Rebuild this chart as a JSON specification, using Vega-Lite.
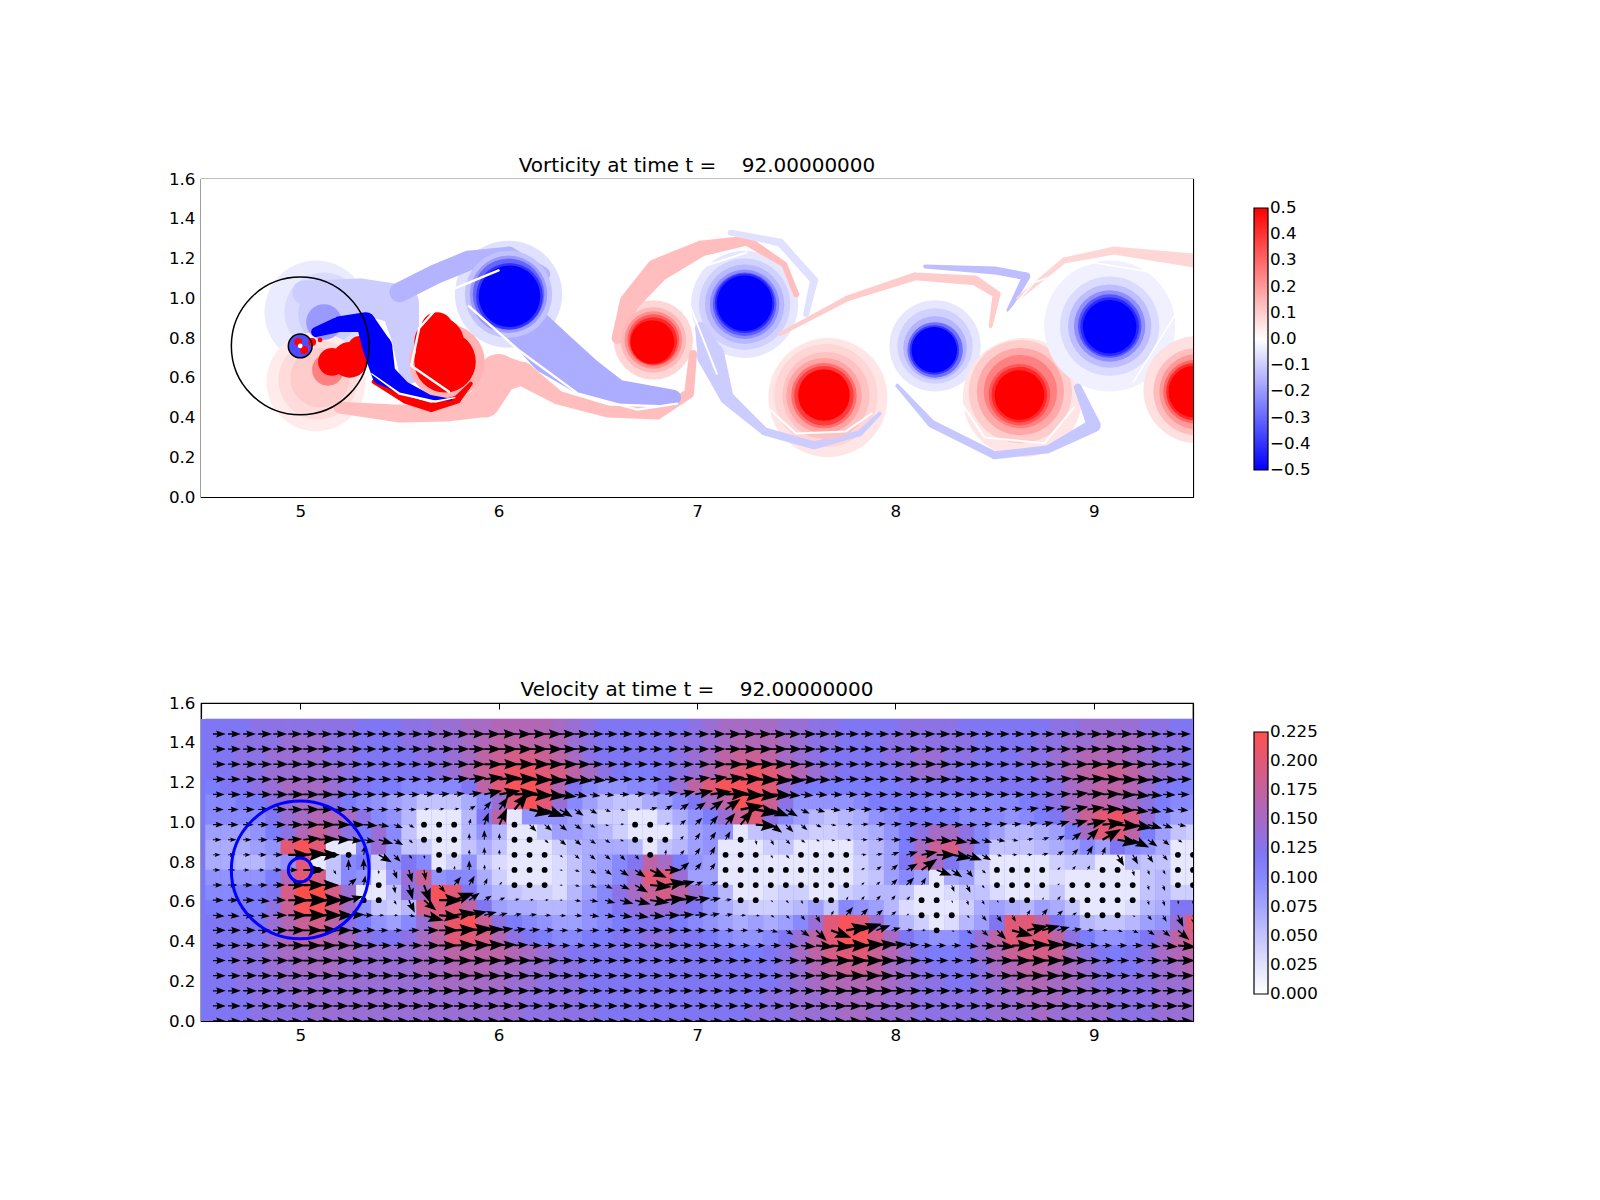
{"$schema":"https://vega.github.io/schema/vega-lite/v6.json","padding":{"left":167,"top":155,"right":0,"bottom":0},"background":"white","spacing":158,"resolve":{"scale":{"color":"independent","size":"independent"},"legend":{"color":"independent"}},
"config":{"font":"DejaVu Sans","view":{"stroke":"#000","strokeWidth":1.2},"title":{"fontSize":20,"fontWeight":"normal","color":"#000","font":"DejaVu Sans","offset":-5},"axis":{"labelFont":"DejaVu Sans","labelFontSize":16.7,"labelColor":"#000","tickColor":"#000","grid":false,"domain":true,"domainColor":"#000","domainWidth":1.2,"zindex":1,"title":null,"labelPadding":12,"tickSize":-6},"legend":{"labelFont":"DejaVu Sans","labelFontSize":16.7,"labelColor":"#000","gradientStrokeColor":"#000","gradientStrokeWidth":1.2}},
"datasets":{
"base0":[{"x":4.5,"x2":9.5,"y":0,"y2":1.6,"v":0}],
"halo":[
{"x":5.08,"y":0.93,"r":0.26,"v":-0.04},{"x":5.12,"y":0.93,"r":0.2,"v":-0.07},{"x":5.14,"y":0.92,"r":0.15,"v":-0.1},{"x":5.08,"y":0.58,"r":0.25,"v":0.04},{"x":5.09,"y":0.59,"r":0.2,"v":0.07},{"x":5.1,"y":0.6,"r":0.15,"v":0.1},
{"x":6.05,"y":1.02,"r":0.27,"v":-0.06},{"x":6.78,"y":0.79,"r":0.2,"v":0.08},{"x":7.24,"y":0.97,"r":0.27,"v":-0.05},{"x":7.24,"y":0.97,"r":0.23,"v":-0.09},{"x":7.66,"y":0.5,"r":0.3,"v":0.05},{"x":7.65,"y":0.51,"r":0.26,"v":0.08},{"x":8.2,"y":0.76,"r":0.23,"v":-0.05},{"x":8.2,"y":0.76,"r":0.19,"v":-0.09},{"x":8.64,"y":0.5,"r":0.3,"v":0.05},{"x":8.63,"y":0.53,"r":0.26,"v":0.1},{"x":9.08,"y":0.86,"r":0.33,"v":-0.03},{"x":9.08,"y":0.86,"r":0.25,"v":-0.07},{"x":9.52,"y":0.54,"r":0.27,"v":0.06}
],
"trails":[
{"g":"a","x":5.02,"y":1.03,"w":0.12,"v":-0.1},{"g":"a","x":5.3,"y":1.01,"w":0.18,"v":-0.1},{"g":"a","x":5.5,"y":0.97,"w":0.2,"v":-0.1},{"g":"a","x":5.53,"y":0.8,"w":0.14,"v":-0.1},{"g":"a","x":5.55,"y":0.62,"w":0.1,"v":-0.1},
{"g":"b","x":5.5,"y":1.03,"w":0.1,"v":-0.15},{"g":"b","x":5.68,"y":1.12,"w":0.1,"v":-0.15},{"g":"b","x":5.85,"y":1.19,"w":0.1,"v":-0.15},{"g":"b","x":6.05,"y":1.21,"w":0.1,"v":-0.15},{"g":"b","x":6.22,"y":1.12,"w":0.08,"v":-0.15},
{"g":"d","x":5.2,"y":0.45,"w":0.06,"v":0.13},{"g":"d","x":5.5,"y":0.42,"w":0.09,"v":0.13},{"g":"d","x":5.75,"y":0.42,"w":0.08,"v":0.13},{"g":"d","x":5.93,"y":0.48,"w":0.16,"v":0.13},{"g":"d","x":6.0,"y":0.62,"w":0.2,"v":0.13},{"g":"d","x":6.12,"y":0.62,"w":0.12,"v":0.13},{"g":"d","x":6.3,"y":0.5,"w":0.07,"v":0.13},{"g":"d","x":6.55,"y":0.43,"w":0.06,"v":0.13},{"g":"d","x":6.8,"y":0.42,"w":0.06,"v":0.13},{"g":"d","x":6.96,"y":0.52,"w":0.05,"v":0.13},{"g":"d","x":6.98,"y":0.72,"w":0.04,"v":0.13},
{"g":"c","x":6.1,"y":0.9,"w":0.22,"v":-0.16},{"g":"c","x":6.27,"y":0.73,"w":0.24,"v":-0.16},{"g":"c","x":6.42,"y":0.62,"w":0.2,"v":-0.16},{"g":"c","x":6.6,"y":0.53,"w":0.12,"v":-0.16},{"g":"c","x":6.88,"y":0.5,"w":0.08,"v":-0.16},
{"g":"k","x":6.6,"y":0.8,"w":0.06,"v":0.13},{"g":"k","x":6.66,"y":0.98,"w":0.1,"v":0.13},{"g":"k","x":6.8,"y":1.14,"w":0.12,"v":0.13},{"g":"k","x":7.02,"y":1.25,"w":0.08,"v":0.13},{"g":"k","x":7.25,"y":1.29,"w":0.05,"v":0.13},{"g":"k","x":7.44,"y":1.17,"w":0.03,"v":0.13},{"g":"k","x":7.5,"y":1.02,"w":0.03,"v":0.13},
{"g":"l","x":7.17,"y":1.33,"w":0.03,"v":-0.06},{"g":"l","x":7.42,"y":1.28,"w":0.04,"v":-0.06},{"g":"l","x":7.59,"y":1.09,"w":0.04,"v":-0.06},{"g":"l","x":7.55,"y":0.92,"w":0.03,"v":-0.06},
{"g":"m","x":7.02,"y":0.85,"w":0.06,"v":-0.1},{"g":"m","x":7.07,"y":0.71,"w":0.14,"v":-0.1},{"g":"m","x":7.15,"y":0.5,"w":0.07,"v":-0.1},{"g":"m","x":7.34,"y":0.33,"w":0.04,"v":-0.1},{"g":"m","x":7.59,"y":0.26,"w":0.04,"v":-0.1},{"g":"m","x":7.82,"y":0.32,"w":0.03,"v":-0.1},{"g":"m","x":7.92,"y":0.42,"w":0.02,"v":-0.1},
{"g":"o","x":7.42,"y":0.82,"w":0.02,"v":0.1},{"g":"o","x":7.76,"y":1.0,"w":0.03,"v":0.1},{"g":"o","x":8.1,"y":1.11,"w":0.04,"v":0.1},{"g":"o","x":8.4,"y":1.09,"w":0.05,"v":0.1},{"g":"o","x":8.51,"y":1.02,"w":0.04,"v":0.1},{"g":"o","x":8.48,"y":0.86,"w":0.02,"v":0.1},
{"g":"p","x":8.15,"y":1.16,"w":0.02,"v":-0.13},{"g":"p","x":8.5,"y":1.14,"w":0.04,"v":-0.13},{"g":"p","x":8.66,"y":1.11,"w":0.04,"v":-0.13},{"g":"p","x":8.57,"y":0.94,"w":0.02,"v":-0.13},
{"g":"s","x":8.01,"y":0.56,"w":0.02,"v":-0.11},{"g":"s","x":8.18,"y":0.37,"w":0.04,"v":-0.11},{"g":"s","x":8.5,"y":0.21,"w":0.04,"v":-0.11},{"g":"s","x":8.77,"y":0.24,"w":0.04,"v":-0.11},{"g":"s","x":9.0,"y":0.36,"w":0.07,"v":-0.11},{"g":"s","x":8.92,"y":0.55,"w":0.04,"v":-0.11},
{"g":"t","x":8.62,"y":1.0,"w":0.02,"v":0.08},{"g":"t","x":8.85,"y":1.19,"w":0.03,"v":0.08},{"g":"t","x":9.1,"y":1.24,"w":0.04,"v":0.08},{"g":"t","x":9.5,"y":1.19,"w":0.07,"v":0.08}
],
"over":[
{"g":"e","x":5.37,"y":0.58,"w":0.02,"v":0.5},{"g":"e","x":5.53,"y":0.49,"w":0.04,"v":0.5},{"g":"e","x":5.66,"y":0.45,"w":0.045,"v":0.5},{"g":"e","x":5.79,"y":0.49,"w":0.04,"v":0.5},{"g":"e","x":5.86,"y":0.57,"w":0.02,"v":0.5},
{"g":"f","x":5.08,"y":0.83,"w":0.05,"v":-0.5},{"g":"f","x":5.2,"y":0.87,"w":0.08,"v":-0.5},{"g":"f","x":5.33,"y":0.88,"w":0.1,"v":-0.5},{"g":"f","x":5.39,"y":0.75,"w":0.15,"v":-0.5},{"g":"f","x":5.42,"y":0.62,"w":0.12,"v":-0.5},{"g":"f","x":5.52,"y":0.55,"w":0.07,"v":-0.5},{"g":"f","x":5.65,"y":0.5,"w":0.03,"v":-0.5},{"g":"f","x":5.76,"y":0.49,"w":0.01,"v":-0.5},
{"g":"h","x":5.36,"y":0.62,"w":0.006,"v":0},{"g":"h","x":5.5,"y":0.52,"w":0.012,"v":0},{"g":"h","x":5.68,"y":0.48,"w":0.012,"v":0},{"g":"h","x":5.78,"y":0.5,"w":0.006,"v":0},
{"g":"i","x":6.0,"y":1.14,"w":0.012,"v":0},{"g":"i","x":5.78,"y":1.05,"w":0.012,"v":0},{"g":"i","x":5.6,"y":0.85,"w":0.012,"v":0},{"g":"i","x":5.56,"y":0.66,"w":0.012,"v":0},{"g":"i","x":5.75,"y":0.53,"w":0.012,"v":0},
{"g":"j","x":5.85,"y":0.96,"w":0.012,"v":0},{"g":"j","x":6.1,"y":0.74,"w":0.012,"v":0},{"g":"j","x":6.4,"y":0.52,"w":0.012,"v":0},{"g":"j","x":6.7,"y":0.44,"w":0.012,"v":0},{"g":"j","x":6.9,"y":0.47,"w":0.012,"v":0},
{"g":"n","x":7.25,"y":1.23,"w":0.01,"v":0},{"g":"n","x":7.0,"y":1.15,"w":0.01,"v":0},{"g":"n","x":6.95,"y":1.0,"w":0.01,"v":0},{"g":"n","x":7.1,"y":0.62,"w":0.01,"v":0},
{"g":"q","x":7.3,"y":0.5,"w":0.01,"v":0},{"g":"q","x":7.5,"y":0.32,"w":0.01,"v":0},{"g":"q","x":7.75,"y":0.33,"w":0.01,"v":0},{"g":"q","x":7.88,"y":0.42,"w":0.01,"v":0},
{"g":"u","x":8.3,"y":0.52,"w":0.01,"v":0},{"g":"u","x":8.45,"y":0.3,"w":0.01,"v":0},{"g":"u","x":8.75,"y":0.27,"w":0.01,"v":0},{"g":"u","x":8.9,"y":0.45,"w":0.01,"v":0},
{"g":"w","x":8.5,"y":0.85,"w":0.008,"v":0},{"g":"w","x":8.7,"y":1.08,"w":0.008,"v":0},{"g":"w","x":9.0,"y":1.18,"w":0.008,"v":0},{"g":"w","x":9.35,"y":1.12,"w":0.008,"v":0},{"g":"w","x":9.45,"y":0.98,"w":0.008,"v":0},{"g":"w","x":9.2,"y":0.58,"w":0.008,"v":0}
],
"blobs":[
{"x":5.12,"y":0.88,"r":0.09,"v":-0.2},{"x":5.14,"y":0.64,"r":0.08,"v":0.25},
{"x":6.05,"y":1.02,"r":0.22,"v":-0.12},{"x":6.05,"y":1.02,"r":0.195,"v":-0.2},{"x":6.05,"y":1.02,"r":0.18,"v":-0.3},{"x":6.055,"y":1.01,"r":0.168,"v":-0.4},{"x":6.055,"y":1.01,"r":0.155,"v":-0.5},
{"x":5.74,"y":0.68,"r":0.19,"v":0.15},{"x":5.73,"y":0.68,"r":0.155,"v":0.5},{"x":5.7,"y":0.78,"r":0.125,"v":0.5},{"x":5.69,"y":0.85,"r":0.08,"v":0.5},
{"x":6.78,"y":0.79,"r":0.165,"v":0.14},{"x":6.78,"y":0.79,"r":0.145,"v":0.22},{"x":6.78,"y":0.79,"r":0.13,"v":0.32},{"x":6.78,"y":0.785,"r":0.12,"v":0.42},{"x":6.775,"y":0.78,"r":0.11,"v":0.5},
{"x":7.24,"y":0.97,"r":0.2,"v":-0.14},{"x":7.24,"y":0.97,"r":0.175,"v":-0.22},{"x":7.24,"y":0.97,"r":0.16,"v":-0.32},{"x":7.24,"y":0.975,"r":0.15,"v":-0.42},{"x":7.24,"y":0.975,"r":0.14,"v":-0.5},
{"x":7.65,"y":0.51,"r":0.22,"v":0.12},{"x":7.64,"y":0.51,"r":0.19,"v":0.18},{"x":7.64,"y":0.51,"r":0.165,"v":0.28},{"x":7.64,"y":0.51,"r":0.15,"v":0.38},{"x":7.64,"y":0.513,"r":0.13,"v":0.5},
{"x":8.2,"y":0.75,"r":0.16,"v":-0.15},{"x":8.2,"y":0.74,"r":0.14,"v":-0.28},{"x":8.196,"y":0.74,"r":0.125,"v":-0.4},{"x":8.196,"y":0.74,"r":0.115,"v":-0.5},
{"x":8.63,"y":0.53,"r":0.22,"v":0.17},{"x":8.63,"y":0.53,"r":0.185,"v":0.25},{"x":8.625,"y":0.515,"r":0.155,"v":0.33},{"x":8.625,"y":0.515,"r":0.14,"v":0.42},{"x":8.625,"y":0.513,"r":0.125,"v":0.5},
{"x":9.08,"y":0.86,"r":0.21,"v":-0.13},{"x":9.08,"y":0.86,"r":0.18,"v":-0.22},{"x":9.08,"y":0.86,"r":0.16,"v":-0.33},{"x":9.08,"y":0.857,"r":0.148,"v":-0.42},{"x":9.08,"y":0.857,"r":0.135,"v":-0.5},
{"x":9.52,"y":0.53,"r":0.22,"v":0.13},{"x":9.52,"y":0.53,"r":0.19,"v":0.2},{"x":9.51,"y":0.53,"r":0.16,"v":0.3},{"x":9.51,"y":0.53,"r":0.145,"v":0.42},{"x":9.507,"y":0.53,"r":0.13,"v":0.5},
{"x":5.25,"y":0.69,"r":0.09,"v":0.5},{"x":5.16,"y":0.68,"r":0.07,"v":0.5},{"x":5.3,"y":0.75,"r":0.06,"v":0.5},
{"x":5.0,"y":0.76,"r":0.06,"v":-0.35},{"x":4.99,"y":0.78,"r":0.02,"v":0.5},{"x":5.02,"y":0.74,"r":0.02,"v":0.5},{"x":5.0,"y":0.76,"r":0.012,"v":0},{"x":5.06,"y":0.78,"r":0.02,"v":0.5},{"x":5.1,"y":0.79,"r":0.012,"v":0.5}
],
"circles":[{"x":5,"y":0.76,"r":0.347},{"x":5,"y":0.76,"r":0.06}],
"base":[{"x":4.5,"x2":9.5,"y":0,"y2":1.52,"s":0.115}],
"grid":[
{"x":4.56,"y":1.444,"s":0.12},{"x":4.636,"y":1.444,"s":0.12},{"x":4.712,"y":1.444,"s":0.12},{"x":4.788,"y":1.444,"s":0.13},{"x":4.864,"y":1.444,"s":0.13},{"x":4.94,"y":1.444,"s":0.13},{"x":5.016,"y":1.444,"s":0.13},{"x":5.092,"y":1.444,"s":0.13},{"x":5.168,"y":1.444,"s":0.13},{"x":5.244,"y":1.444,"s":0.13},{"x":5.32,"y":1.444,"s":0.12},{"x":5.396,"y":1.444,"s":0.12},{"x":5.472,"y":1.444,"s":0.12},{"x":5.548,"y":1.444,"s":0.13},{"x":5.624,"y":1.444,"s":0.13},{"x":5.7,"y":1.444,"s":0.14},{"x":5.776,"y":1.444,"s":0.14},{"x":5.852,"y":1.444,"s":0.15},{"x":5.928,"y":1.444,"s":0.15},{"x":6.004,"y":1.444,"s":0.16},{"x":6.08,"y":1.444,"s":0.16},{"x":6.156,"y":1.444,"s":0.16},{"x":6.232,"y":1.444,"s":0.16},{"x":6.308,"y":1.444,"s":0.15},{"x":6.384,"y":1.444,"s":0.14},{"x":6.46,"y":1.444,"s":0.13},{"x":6.536,"y":1.444,"s":0.12},{"x":6.612,"y":1.444,"s":0.12},{"x":6.688,"y":1.444,"s":0.12},{"x":6.764,"y":1.444,"s":0.12},{"x":6.84,"y":1.444,"s":0.12},{"x":6.916,"y":1.444,"s":0.12},{"x":6.992,"y":1.444,"s":0.13},{"x":7.068,"y":1.444,"s":0.14},{"x":7.144,"y":1.444,"s":0.15},{"x":7.22,"y":1.444,"s":0.15},{"x":7.296,"y":1.444,"s":0.15},{"x":7.372,"y":1.444,"s":0.15},{"x":7.448,"y":1.444,"s":0.14},{"x":7.524,"y":1.444,"s":0.14},{"x":7.6,"y":1.444,"s":0.13},{"x":7.676,"y":1.444,"s":0.13},{"x":7.752,"y":1.444,"s":0.12},{"x":7.828,"y":1.444,"s":0.12},{"x":7.904,"y":1.444,"s":0.12},{"x":7.98,"y":1.444,"s":0.12},{"x":8.056,"y":1.444,"s":0.13},{"x":8.132,"y":1.444,"s":0.13},{"x":8.208,"y":1.444,"s":0.13},{"x":8.284,"y":1.444,"s":0.13},{"x":8.36,"y":1.444,"s":0.12},{"x":8.436,"y":1.444,"s":0.12},{"x":8.512,"y":1.444,"s":0.12},{"x":8.588,"y":1.444,"s":0.12},{"x":8.664,"y":1.444,"s":0.12},{"x":8.74,"y":1.444,"s":0.12},{"x":8.816,"y":1.444,"s":0.13},{"x":8.892,"y":1.444,"s":0.13},{"x":8.968,"y":1.444,"s":0.14},{"x":9.044,"y":1.444,"s":0.14},{"x":9.12,"y":1.444,"s":0.14},{"x":9.196,"y":1.444,"s":0.14},{"x":9.272,"y":1.444,"s":0.13},{"x":9.348,"y":1.444,"s":0.13},{"x":9.424,"y":1.444,"s":0.12},{"x":9.5,"y":1.444,"s":0.12},
{"x":4.56,"y":1.368,"s":0.12},{"x":4.636,"y":1.368,"s":0.12},{"x":4.712,"y":1.368,"s":0.13},{"x":4.788,"y":1.368,"s":0.13},{"x":4.864,"y":1.368,"s":0.13},{"x":4.94,"y":1.368,"s":0.14},{"x":5.016,"y":1.368,"s":0.14},{"x":5.092,"y":1.368,"s":0.14},{"x":5.168,"y":1.368,"s":0.13},{"x":5.244,"y":1.368,"s":0.13},{"x":5.32,"y":1.368,"s":0.12},{"x":5.396,"y":1.368,"s":0.12},{"x":5.472,"y":1.368,"s":0.12},{"x":5.548,"y":1.368,"s":0.13},{"x":5.624,"y":1.368,"s":0.13},{"x":5.7,"y":1.368,"s":0.14},{"x":5.776,"y":1.368,"s":0.14},{"x":5.852,"y":1.368,"s":0.15},{"x":5.928,"y":1.368,"s":0.16},{"x":6.004,"y":1.368,"s":0.17},{"x":6.08,"y":1.368,"s":0.17},{"x":6.156,"y":1.368,"s":0.17},{"x":6.232,"y":1.368,"s":0.17},{"x":6.308,"y":1.368,"s":0.16},{"x":6.384,"y":1.368,"s":0.14},{"x":6.46,"y":1.368,"s":0.13},{"x":6.536,"y":1.368,"s":0.12},{"x":6.612,"y":1.368,"s":0.12},{"x":6.688,"y":1.368,"s":0.12},{"x":6.764,"y":1.368,"s":0.12},{"x":6.84,"y":1.368,"s":0.12},{"x":6.916,"y":1.368,"s":0.13},{"x":6.992,"y":1.368,"s":0.13},{"x":7.068,"y":1.368,"s":0.14},{"x":7.144,"y":1.368,"s":0.15},{"x":7.22,"y":1.368,"s":0.16},{"x":7.296,"y":1.368,"s":0.16},{"x":7.372,"y":1.368,"s":0.16},{"x":7.448,"y":1.368,"s":0.15},{"x":7.524,"y":1.368,"s":0.14},{"x":7.6,"y":1.368,"s":0.13},{"x":7.676,"y":1.368,"s":0.13},{"x":7.752,"y":1.368,"s":0.12},{"x":7.828,"y":1.368,"s":0.12},{"x":7.904,"y":1.368,"s":0.12},{"x":7.98,"y":1.368,"s":0.13},{"x":8.056,"y":1.368,"s":0.13},{"x":8.132,"y":1.368,"s":0.13},{"x":8.208,"y":1.368,"s":0.13},{"x":8.284,"y":1.368,"s":0.13},{"x":8.36,"y":1.368,"s":0.13},{"x":8.436,"y":1.368,"s":0.12},{"x":8.512,"y":1.368,"s":0.12},{"x":8.588,"y":1.368,"s":0.12},{"x":8.664,"y":1.368,"s":0.12},{"x":8.74,"y":1.368,"s":0.13},{"x":8.816,"y":1.368,"s":0.13},{"x":8.892,"y":1.368,"s":0.14},{"x":8.968,"y":1.368,"s":0.14},{"x":9.044,"y":1.368,"s":0.15},{"x":9.12,"y":1.368,"s":0.15},{"x":9.196,"y":1.368,"s":0.15},{"x":9.272,"y":1.368,"s":0.14},{"x":9.348,"y":1.368,"s":0.13},{"x":9.424,"y":1.368,"s":0.13},{"x":9.5,"y":1.368,"s":0.12},
{"x":4.56,"y":1.292,"s":0.12},{"x":4.636,"y":1.292,"s":0.12},{"x":4.712,"y":1.292,"s":0.13},{"x":4.788,"y":1.292,"s":0.13},{"x":4.864,"y":1.292,"s":0.14},{"x":4.94,"y":1.292,"s":0.14},{"x":5.016,"y":1.292,"s":0.14},{"x":5.092,"y":1.292,"s":0.14},{"x":5.168,"y":1.292,"s":0.13},{"x":5.244,"y":1.292,"s":0.13},{"x":5.32,"y":1.292,"s":0.12},{"x":5.396,"y":1.292,"s":0.12},{"x":5.472,"y":1.292,"s":0.12},{"x":5.548,"y":1.292,"s":0.12},{"x":5.624,"y":1.292,"s":0.13},{"x":5.7,"y":1.292,"s":0.13},{"x":5.776,"y":1.292,"s":0.14},{"x":5.852,"y":1.292,"s":0.15},{"x":5.928,"y":1.292,"s":0.17},{"x":6.004,"y":1.292,"s":0.18},{"x":6.08,"y":1.292,"s":0.19},{"x":6.156,"y":1.292,"s":0.19},{"x":6.232,"y":1.292,"s":0.18},{"x":6.308,"y":1.292,"s":0.17},{"x":6.384,"y":1.292,"s":0.15},{"x":6.46,"y":1.292,"s":0.13},{"x":6.536,"y":1.292,"s":0.12},{"x":6.612,"y":1.292,"s":0.12},{"x":6.688,"y":1.292,"s":0.12},{"x":6.764,"y":1.292,"s":0.12},{"x":6.84,"y":1.292,"s":0.12},{"x":6.916,"y":1.292,"s":0.13},{"x":6.992,"y":1.292,"s":0.14},{"x":7.068,"y":1.292,"s":0.15},{"x":7.144,"y":1.292,"s":0.17},{"x":7.22,"y":1.292,"s":0.18},{"x":7.296,"y":1.292,"s":0.18},{"x":7.372,"y":1.292,"s":0.17},{"x":7.448,"y":1.292,"s":0.15},{"x":7.524,"y":1.292,"s":0.14},{"x":7.6,"y":1.292,"s":0.13},{"x":7.676,"y":1.292,"s":0.12},{"x":7.752,"y":1.292,"s":0.12},{"x":7.828,"y":1.292,"s":0.12},{"x":7.904,"y":1.292,"s":0.12},{"x":7.98,"y":1.292,"s":0.13},{"x":8.056,"y":1.292,"s":0.13},{"x":8.132,"y":1.292,"s":0.14},{"x":8.208,"y":1.292,"s":0.14},{"x":8.284,"y":1.292,"s":0.13},{"x":8.36,"y":1.292,"s":0.13},{"x":8.436,"y":1.292,"s":0.12},{"x":8.512,"y":1.292,"s":0.12},{"x":8.588,"y":1.292,"s":0.12},{"x":8.664,"y":1.292,"s":0.13},{"x":8.74,"y":1.292,"s":0.13},{"x":8.816,"y":1.292,"s":0.14},{"x":8.892,"y":1.292,"s":0.15},{"x":8.968,"y":1.292,"s":0.16},{"x":9.044,"y":1.292,"s":0.16},{"x":9.12,"y":1.292,"s":0.16},{"x":9.196,"y":1.292,"s":0.15},{"x":9.272,"y":1.292,"s":0.14},{"x":9.348,"y":1.292,"s":0.13},{"x":9.424,"y":1.292,"s":0.13},{"x":9.5,"y":1.292,"s":0.12},
{"x":4.56,"y":1.216,"s":0.12},{"x":4.636,"y":1.216,"s":0.12},{"x":4.712,"y":1.216,"s":0.13},{"x":4.788,"y":1.216,"s":0.13},{"x":4.864,"y":1.216,"s":0.14},{"x":4.94,"y":1.216,"s":0.14},{"x":5.016,"y":1.216,"s":0.14},{"x":5.092,"y":1.216,"s":0.14},{"x":5.168,"y":1.216,"s":0.14},{"x":5.244,"y":1.216,"s":0.13},{"x":5.32,"y":1.216,"s":0.12},{"x":5.396,"y":1.216,"s":0.12},{"x":5.472,"y":1.216,"s":0.12},{"x":5.548,"y":1.216,"s":0.12},{"x":5.624,"y":1.216,"s":0.12},{"x":5.7,"y":1.216,"s":0.13,"a":-3},{"x":5.776,"y":1.216,"s":0.14,"a":-4},{"x":5.852,"y":1.216,"s":0.16,"a":-6},{"x":5.928,"y":1.216,"s":0.18,"a":-7},{"x":6.004,"y":1.216,"s":0.2,"a":-5},{"x":6.08,"y":1.216,"s":0.21,"a":-2},{"x":6.156,"y":1.216,"s":0.21,"a":2},{"x":6.232,"y":1.216,"s":0.2,"a":4},{"x":6.308,"y":1.216,"s":0.19,"a":5},{"x":6.384,"y":1.216,"s":0.17,"a":5},{"x":6.46,"y":1.216,"s":0.15,"a":4},{"x":6.536,"y":1.216,"s":0.13,"a":3},{"x":6.612,"y":1.216,"s":0.12},{"x":6.688,"y":1.216,"s":0.11},{"x":6.764,"y":1.216,"s":0.11},{"x":6.84,"y":1.216,"s":0.12,"a":-3},{"x":6.916,"y":1.216,"s":0.13,"a":-5},{"x":6.992,"y":1.216,"s":0.14,"a":-7},{"x":7.068,"y":1.216,"s":0.16,"a":-8},{"x":7.144,"y":1.216,"s":0.18,"a":-6},{"x":7.22,"y":1.216,"s":0.2,"a":-2},{"x":7.296,"y":1.216,"s":0.21,"a":2},{"x":7.372,"y":1.216,"s":0.2,"a":4},{"x":7.448,"y":1.216,"s":0.18,"a":4},{"x":7.524,"y":1.216,"s":0.16,"a":3},{"x":7.6,"y":1.216,"s":0.14,"a":3},{"x":7.676,"y":1.216,"s":0.13,"a":2},{"x":7.752,"y":1.216,"s":0.12},{"x":7.828,"y":1.216,"s":0.12},{"x":7.904,"y":1.216,"s":0.12},{"x":7.98,"y":1.216,"s":0.12},{"x":8.056,"y":1.216,"s":0.13},{"x":8.132,"y":1.216,"s":0.14},{"x":8.208,"y":1.216,"s":0.14},{"x":8.284,"y":1.216,"s":0.13},{"x":8.36,"y":1.216,"s":0.12},{"x":8.436,"y":1.216,"s":0.12},{"x":8.512,"y":1.216,"s":0.12},{"x":8.588,"y":1.216,"s":0.12},{"x":8.664,"y":1.216,"s":0.12},{"x":8.74,"y":1.216,"s":0.13},{"x":8.816,"y":1.216,"s":0.14,"a":-3},{"x":8.892,"y":1.216,"s":0.16,"a":-4},{"x":8.968,"y":1.216,"s":0.17,"a":-3},{"x":9.044,"y":1.216,"s":0.18,"a":-1},{"x":9.12,"y":1.216,"s":0.18,"a":1},{"x":9.196,"y":1.216,"s":0.17,"a":3},{"x":9.272,"y":1.216,"s":0.15,"a":3},{"x":9.348,"y":1.216,"s":0.14,"a":3},{"x":9.424,"y":1.216,"s":0.13},{"x":9.5,"y":1.216,"s":0.12},
{"x":4.56,"y":1.14,"s":0.11},{"x":4.636,"y":1.14,"s":0.12},{"x":4.712,"y":1.14,"s":0.12},{"x":4.788,"y":1.14,"s":0.13},{"x":4.864,"y":1.14,"s":0.14},{"x":4.94,"y":1.14,"s":0.15},{"x":5.016,"y":1.14,"s":0.15},{"x":5.092,"y":1.14,"s":0.15},{"x":5.168,"y":1.14,"s":0.14},{"x":5.244,"y":1.14,"s":0.13},{"x":5.32,"y":1.14,"s":0.12},{"x":5.396,"y":1.14,"s":0.11},{"x":5.472,"y":1.14,"s":0.11},{"x":5.548,"y":1.14,"s":0.1},{"x":5.624,"y":1.14,"s":0.1,"a":-3},{"x":5.7,"y":1.14,"s":0.1,"a":-4},{"x":5.776,"y":1.14,"s":0.1,"a":-6},{"x":5.852,"y":1.14,"s":0.12,"a":-8},{"x":5.928,"y":1.14,"s":0.17,"a":-12},{"x":6.004,"y":1.14,"s":0.2,"a":-10},{"x":6.08,"y":1.14,"s":0.22,"a":-3},{"x":6.156,"y":1.14,"s":0.22,"a":3},{"x":6.232,"y":1.14,"s":0.2,"a":6},{"x":6.308,"y":1.14,"s":0.16,"a":8},{"x":6.384,"y":1.14,"s":0.12,"a":8},{"x":6.46,"y":1.14,"s":0.1,"a":8},{"x":6.536,"y":1.14,"s":0.09,"a":5},{"x":6.612,"y":1.14,"s":0.09},{"x":6.688,"y":1.14,"s":0.1,"a":-5},{"x":6.764,"y":1.14,"s":0.1,"a":-8},{"x":6.84,"y":1.14,"s":0.12,"a":-10},{"x":6.916,"y":1.14,"s":0.14,"a":-12},{"x":6.992,"y":1.14,"s":0.17,"a":-12},{"x":7.068,"y":1.14,"s":0.2,"a":-8},{"x":7.144,"y":1.14,"s":0.22,"a":-3},{"x":7.22,"y":1.14,"s":0.22,"a":3},{"x":7.296,"y":1.14,"s":0.21,"a":5},{"x":7.372,"y":1.14,"s":0.2,"a":3},{"x":7.448,"y":1.14,"s":0.14,"a":5},{"x":7.524,"y":1.14,"s":0.12,"a":5},{"x":7.6,"y":1.14,"s":0.11,"a":3},{"x":7.676,"y":1.14,"s":0.11,"a":2},{"x":7.752,"y":1.14,"s":0.11},{"x":7.828,"y":1.14,"s":0.11},{"x":7.904,"y":1.14,"s":0.11},{"x":7.98,"y":1.14,"s":0.11},{"x":8.056,"y":1.14,"s":0.12},{"x":8.132,"y":1.14,"s":0.12},{"x":8.208,"y":1.14,"s":0.12},{"x":8.284,"y":1.14,"s":0.12},{"x":8.36,"y":1.14,"s":0.12},{"x":8.436,"y":1.14,"s":0.12},{"x":8.512,"y":1.14,"s":0.12},{"x":8.588,"y":1.14,"s":0.12},{"x":8.664,"y":1.14,"s":0.12},{"x":8.74,"y":1.14,"s":0.12},{"x":8.816,"y":1.14,"s":0.13,"a":-3},{"x":8.892,"y":1.14,"s":0.15,"a":-5},{"x":8.968,"y":1.14,"s":0.16,"a":-3},{"x":9.044,"y":1.14,"s":0.17,"a":-2},{"x":9.12,"y":1.14,"s":0.17,"a":2},{"x":9.196,"y":1.14,"s":0.16,"a":5},{"x":9.272,"y":1.14,"s":0.14,"a":5},{"x":9.348,"y":1.14,"s":0.12,"a":3},{"x":9.424,"y":1.14,"s":0.11},{"x":9.5,"y":1.14,"s":0.11},
{"x":4.56,"y":1.064,"s":0.1},{"x":4.636,"y":1.064,"s":0.1},{"x":4.712,"y":1.064,"s":0.11},{"x":4.788,"y":1.064,"s":0.11},{"x":4.864,"y":1.064,"s":0.13},{"x":4.94,"y":1.064,"s":0.14},{"x":5.016,"y":1.064,"s":0.15},{"x":5.092,"y":1.064,"s":0.14},{"x":5.168,"y":1.064,"s":0.13},{"x":5.244,"y":1.064,"s":0.11},{"x":5.32,"y":1.064,"s":0.1},{"x":5.396,"y":1.064,"s":0.09},{"x":5.472,"y":1.064,"s":0.08},{"x":5.548,"y":1.064,"s":0.07},{"x":5.624,"y":1.064,"s":0.05,"a":-10},{"x":5.7,"y":1.064,"s":0.05,"a":-10},{"x":5.776,"y":1.064,"s":0.05,"a":-15},{"x":5.852,"y":1.064,"s":0.07,"a":-30},{"x":5.928,"y":1.064,"s":0.1,"a":-50},{"x":6.004,"y":1.064,"s":0.14,"a":-55},{"x":6.08,"y":1.064,"s":0.2,"a":-50},{"x":6.156,"y":1.064,"s":0.22,"a":10},{"x":6.232,"y":1.064,"s":0.2,"a":20},{"x":6.308,"y":1.064,"s":0.14,"a":30},{"x":6.384,"y":1.064,"s":0.1,"a":35},{"x":6.46,"y":1.064,"s":0.08,"a":30},{"x":6.536,"y":1.064,"s":0.06,"a":20},{"x":6.612,"y":1.064,"s":0.05,"a":10},{"x":6.688,"y":1.064,"s":0.05,"a":-5},{"x":6.764,"y":1.064,"s":0.07,"a":-15},{"x":6.84,"y":1.064,"s":0.08,"a":-30},{"x":6.916,"y":1.064,"s":0.1,"a":-35},{"x":6.992,"y":1.064,"s":0.12,"a":-35},{"x":7.068,"y":1.064,"s":0.15,"a":-35},{"x":7.144,"y":1.064,"s":0.17,"a":-35},{"x":7.22,"y":1.064,"s":0.22,"a":-10},{"x":7.296,"y":1.064,"s":0.22,"a":10},{"x":7.372,"y":1.064,"s":0.18,"a":20},{"x":7.448,"y":1.064,"s":0.13,"a":30},{"x":7.524,"y":1.064,"s":0.09,"a":25},{"x":7.6,"y":1.064,"s":0.09,"a":15},{"x":7.676,"y":1.064,"s":0.09,"a":5},{"x":7.752,"y":1.064,"s":0.09},{"x":7.828,"y":1.064,"s":0.1,"a":-2},{"x":7.904,"y":1.064,"s":0.11,"a":-3},{"x":7.98,"y":1.064,"s":0.11,"a":-3},{"x":8.056,"y":1.064,"s":0.11,"a":-2},{"x":8.132,"y":1.064,"s":0.11,"a":-2},{"x":8.208,"y":1.064,"s":0.1},{"x":8.284,"y":1.064,"s":0.1},{"x":8.36,"y":1.064,"s":0.1},{"x":8.436,"y":1.064,"s":0.1},{"x":8.512,"y":1.064,"s":0.1,"a":-3},{"x":8.588,"y":1.064,"s":0.1,"a":-5},{"x":8.664,"y":1.064,"s":0.11,"a":-7},{"x":8.74,"y":1.064,"s":0.12,"a":-8},{"x":8.816,"y":1.064,"s":0.13,"a":-10},{"x":8.892,"y":1.064,"s":0.15,"a":-10},{"x":8.968,"y":1.064,"s":0.16,"a":-8},{"x":9.044,"y":1.064,"s":0.17,"a":-3},{"x":9.12,"y":1.064,"s":0.16,"a":3},{"x":9.196,"y":1.064,"s":0.15,"a":8},{"x":9.272,"y":1.064,"s":0.13,"a":10},{"x":9.348,"y":1.064,"s":0.11,"a":8},{"x":9.424,"y":1.064,"s":0.1,"a":5},{"x":9.5,"y":1.064,"s":0.1,"a":5},
{"x":4.56,"y":0.988,"s":0.1},{"x":4.636,"y":0.988,"s":0.1},{"x":4.712,"y":0.988,"s":0.1},{"x":4.788,"y":0.988,"s":0.1},{"x":4.864,"y":0.988,"s":0.12},{"x":4.94,"y":0.988,"s":0.14},{"x":5.016,"y":0.988,"s":0.15},{"x":5.092,"y":0.988,"s":0.16},{"x":5.168,"y":0.988,"s":0.16},{"x":5.244,"y":0.988,"s":0.15},{"x":5.32,"y":0.988,"s":0.13,"a":5},{"x":5.396,"y":0.988,"s":0.1,"a":10},{"x":5.472,"y":0.988,"s":0.09,"a":20},{"x":5.548,"y":0.988,"s":0.06,"a":30},{"x":5.624,"y":0.988,"s":0.02},{"x":5.7,"y":0.988,"s":0.02},{"x":5.776,"y":0.988,"s":0.02},{"x":5.852,"y":0.988,"s":0.06,"a":-75},{"x":5.928,"y":0.988,"s":0.12,"a":-70},{"x":6.004,"y":0.988,"s":0.17,"a":-65},{"x":6.08,"y":0.988,"s":0.02},{"x":6.156,"y":0.988,"s":0.09,"a":45},{"x":6.232,"y":0.988,"s":0.09,"a":40},{"x":6.308,"y":0.988,"s":0.09,"a":40},{"x":6.384,"y":0.988,"s":0.08,"a":35},{"x":6.46,"y":0.988,"s":0.06,"a":30},{"x":6.536,"y":0.988,"s":0.04,"a":20},{"x":6.612,"y":0.988,"s":0.04,"a":-10},{"x":6.688,"y":0.988,"s":0.02},{"x":6.764,"y":0.988,"s":0.02},{"x":6.84,"y":0.988,"s":0.05,"a":-20},{"x":6.916,"y":0.988,"s":0.07,"a":-40},{"x":6.992,"y":0.988,"s":0.09,"a":-45},{"x":7.068,"y":0.988,"s":0.11,"a":-50},{"x":7.144,"y":0.988,"s":0.14,"a":-50},{"x":7.22,"y":0.988,"s":0.18,"a":-50},{"x":7.296,"y":0.988,"s":0.2,"a":5},{"x":7.372,"y":0.988,"s":0.13,"a":35},{"x":7.448,"y":0.988,"s":0.1,"a":45},{"x":7.524,"y":0.988,"s":0.08,"a":40},{"x":7.6,"y":0.988,"s":0.06,"a":25},{"x":7.676,"y":0.988,"s":0.05,"a":10},{"x":7.752,"y":0.988,"s":0.06},{"x":7.828,"y":0.988,"s":0.07,"a":-5},{"x":7.904,"y":0.988,"s":0.09,"a":-5},{"x":7.98,"y":0.988,"s":0.1,"a":-5},{"x":8.056,"y":0.988,"s":0.11,"a":-5},{"x":8.132,"y":0.988,"s":0.11,"a":-3},{"x":8.208,"y":0.988,"s":0.11},{"x":8.284,"y":0.988,"s":0.11},{"x":8.36,"y":0.988,"s":0.1},{"x":8.436,"y":0.988,"s":0.1,"a":-3},{"x":8.512,"y":0.988,"s":0.1,"a":-5},{"x":8.588,"y":0.988,"s":0.09,"a":-5},{"x":8.664,"y":0.988,"s":0.1,"a":-10},{"x":8.74,"y":0.988,"s":0.11,"a":-12},{"x":8.816,"y":0.988,"s":0.12,"a":-15},{"x":8.892,"y":0.988,"s":0.15,"a":-15},{"x":8.968,"y":0.988,"s":0.18,"a":-12},{"x":9.044,"y":0.988,"s":0.2,"a":-5},{"x":9.12,"y":0.988,"s":0.21,"a":5},{"x":9.196,"y":0.988,"s":0.19,"a":10},{"x":9.272,"y":0.988,"s":0.14,"a":15},{"x":9.348,"y":0.988,"s":0.1,"a":20},{"x":9.424,"y":0.988,"s":0.08,"a":10},{"x":9.5,"y":0.988,"s":0.08,"a":5},
{"x":4.56,"y":0.912,"s":0.08},{"x":4.636,"y":0.912,"s":0.08},{"x":4.712,"y":0.912,"s":0.08},{"x":4.788,"y":0.912,"s":0.09},{"x":4.864,"y":0.912,"s":0.11,"a":-3},{"x":4.94,"y":0.912,"s":0.13,"a":-3},{"x":5.016,"y":0.912,"s":0.16,"a":-5},{"x":5.092,"y":0.912,"s":0.18,"a":-3},{"x":5.168,"y":0.912,"s":0.16},{"x":5.244,"y":0.912,"s":0.13,"a":5},{"x":5.32,"y":0.912,"s":0.11,"a":10},{"x":5.396,"y":0.912,"s":0.14,"a":15},{"x":5.472,"y":0.912,"s":0.1,"a":30},{"x":5.548,"y":0.912,"s":0.05,"a":40},{"x":5.624,"y":0.912,"s":0.02},{"x":5.7,"y":0.912,"s":0.02},{"x":5.776,"y":0.912,"s":0.02},{"x":5.852,"y":0.912,"s":0.06,"a":-90},{"x":5.928,"y":0.912,"s":0.09,"a":-90},{"x":6.004,"y":0.912,"s":0.06,"a":-90},{"x":6.08,"y":0.912,"s":0.02},{"x":6.156,"y":0.912,"s":0.02},{"x":6.232,"y":0.912,"s":0.05,"a":40},{"x":6.308,"y":0.912,"s":0.08,"a":40},{"x":6.384,"y":0.912,"s":0.08,"a":40},{"x":6.46,"y":0.912,"s":0.07,"a":35},{"x":6.536,"y":0.912,"s":0.06,"a":30},{"x":6.612,"y":0.912,"s":0.04,"a":20},{"x":6.688,"y":0.912,"s":0.02},{"x":6.764,"y":0.912,"s":0.02},{"x":6.84,"y":0.912,"s":0.02},{"x":6.916,"y":0.912,"s":0.05,"a":-50},{"x":6.992,"y":0.912,"s":0.08,"a":-55},{"x":7.068,"y":0.912,"s":0.09,"a":-55},{"x":7.144,"y":0.912,"s":0.09,"a":-60},{"x":7.22,"y":0.912,"s":0.02},{"x":7.296,"y":0.912,"s":0.05,"a":80},{"x":7.372,"y":0.912,"s":0.06,"a":60},{"x":7.448,"y":0.912,"s":0.06,"a":45},{"x":7.524,"y":0.912,"s":0.05,"a":35},{"x":7.6,"y":0.912,"s":0.04,"a":20},{"x":7.676,"y":0.912,"s":0.04,"a":15},{"x":7.752,"y":0.912,"s":0.05,"a":5},{"x":7.828,"y":0.912,"s":0.06},{"x":7.904,"y":0.912,"s":0.07,"a":-5},{"x":7.98,"y":0.912,"s":0.09},{"x":8.056,"y":0.912,"s":0.11},{"x":8.132,"y":0.912,"s":0.13,"a":5},{"x":8.208,"y":0.912,"s":0.15,"a":5},{"x":8.284,"y":0.912,"s":0.15,"a":10},{"x":8.36,"y":0.912,"s":0.13,"a":15},{"x":8.436,"y":0.912,"s":0.1,"a":15},{"x":8.512,"y":0.912,"s":0.08,"a":10},{"x":8.588,"y":0.912,"s":0.06,"a":10},{"x":8.664,"y":0.912,"s":0.06,"a":-10},{"x":8.74,"y":0.912,"s":0.07,"a":-20},{"x":8.816,"y":0.912,"s":0.08,"a":-30},{"x":8.892,"y":0.912,"s":0.11,"a":-40},{"x":8.968,"y":0.912,"s":0.15,"a":-45},{"x":9.044,"y":0.912,"s":0.2,"a":-30},{"x":9.12,"y":0.912,"s":0.2,"a":10},{"x":9.196,"y":0.912,"s":0.17,"a":25},{"x":9.272,"y":0.912,"s":0.11,"a":35},{"x":9.348,"y":0.912,"s":0.08,"a":40},{"x":9.424,"y":0.912,"s":0.05,"a":30},{"x":9.5,"y":0.912,"s":0.04,"a":20},
{"x":4.56,"y":0.836,"s":0.07},{"x":4.636,"y":0.836,"s":0.07},{"x":4.712,"y":0.836,"s":0.07},{"x":4.788,"y":0.836,"s":0.08},{"x":4.864,"y":0.836,"s":0.09},{"x":4.94,"y":0.836,"s":0.2},{"x":5.016,"y":0.836,"s":0.22,"a":-3},{"x":5.092,"y":0.836,"s":0.2},{"x":5.168,"y":0.836,"s":0.02},{"x":5.244,"y":0.836,"s":0.02},{"x":5.32,"y":0.836,"s":0.1,"a":-80},{"x":5.396,"y":0.836,"s":0.14,"a":30},{"x":5.472,"y":0.836,"s":0.09,"a":45},{"x":5.548,"y":0.836,"s":0.05,"a":50},{"x":5.624,"y":0.836,"s":0.04,"a":80},{"x":5.7,"y":0.836,"s":0.02},{"x":5.776,"y":0.836,"s":0.02},{"x":5.852,"y":0.836,"s":0.05,"a":-90},{"x":5.928,"y":0.836,"s":0.07,"a":-90},{"x":6.004,"y":0.836,"s":0.05,"a":-90},{"x":6.08,"y":0.836,"s":0.02},{"x":6.156,"y":0.836,"s":0.02},{"x":6.232,"y":0.836,"s":0.02},{"x":6.308,"y":0.836,"s":0.04,"a":40},{"x":6.384,"y":0.836,"s":0.06,"a":40},{"x":6.46,"y":0.836,"s":0.07,"a":40},{"x":6.536,"y":0.836,"s":0.07,"a":40},{"x":6.612,"y":0.836,"s":0.07,"a":45},{"x":6.688,"y":0.836,"s":0.06,"a":50},{"x":6.764,"y":0.836,"s":0.02},{"x":6.84,"y":0.836,"s":0.05,"a":-80},{"x":6.916,"y":0.836,"s":0.06,"a":-50},{"x":6.992,"y":0.836,"s":0.08,"a":-55},{"x":7.068,"y":0.836,"s":0.09,"a":-60},{"x":7.144,"y":0.836,"s":0.02},{"x":7.22,"y":0.836,"s":0.02},{"x":7.296,"y":0.836,"s":0.02},{"x":7.372,"y":0.836,"s":0.04,"a":60},{"x":7.448,"y":0.836,"s":0.05,"a":45},{"x":7.524,"y":0.836,"s":0.02},{"x":7.6,"y":0.836,"s":0.02},{"x":7.676,"y":0.836,"s":0.02},{"x":7.752,"y":0.836,"s":0.02},{"x":7.828,"y":0.836,"s":0.05,"a":-5},{"x":7.904,"y":0.836,"s":0.06,"a":-10},{"x":7.98,"y":0.836,"s":0.08,"a":-20},{"x":8.056,"y":0.836,"s":0.11,"a":-15},{"x":8.132,"y":0.836,"s":0.15,"a":-10},{"x":8.208,"y":0.836,"s":0.18},{"x":8.284,"y":0.836,"s":0.19,"a":10},{"x":8.36,"y":0.836,"s":0.15,"a":20},{"x":8.436,"y":0.836,"s":0.1,"a":30},{"x":8.512,"y":0.836,"s":0.05,"a":15},{"x":8.588,"y":0.836,"s":0.05},{"x":8.664,"y":0.836,"s":0.05,"a":-5},{"x":8.74,"y":0.836,"s":0.06,"a":-15},{"x":8.816,"y":0.836,"s":0.07,"a":-30},{"x":8.892,"y":0.836,"s":0.08,"a":-45},{"x":8.968,"y":0.836,"s":0.1,"a":-60},{"x":9.044,"y":0.836,"s":0.08,"a":-70},{"x":9.12,"y":0.836,"s":0.12,"a":60},{"x":9.196,"y":0.836,"s":0.1,"a":60},{"x":9.272,"y":0.836,"s":0.09,"a":55},{"x":9.348,"y":0.836,"s":0.07,"a":50},{"x":9.424,"y":0.836,"s":0.02},{"x":9.5,"y":0.836,"s":0.02},
{"x":4.56,"y":0.76,"s":0.07},{"x":4.636,"y":0.76,"s":0.07},{"x":4.712,"y":0.76,"s":0.06},{"x":4.788,"y":0.76,"s":0.06},{"x":4.864,"y":0.76,"s":0.08},{"x":4.94,"y":0.76,"s":0.09},{"x":5.016,"y":0.76,"s":0.2},{"x":5.092,"y":0.76,"s":0.02},{"x":5.168,"y":0.76,"s":0.05,"a":60},{"x":5.244,"y":0.76,"s":0.1,"a":-90},{"x":5.32,"y":0.76,"s":0.11,"a":-90},{"x":5.396,"y":0.76,"s":0.04,"a":90},{"x":5.472,"y":0.76,"s":0.09,"a":70},{"x":5.548,"y":0.76,"s":0.12,"a":75},{"x":5.624,"y":0.76,"s":0.1,"a":80},{"x":5.7,"y":0.76,"s":0.02},{"x":5.776,"y":0.76,"s":0.04,"a":-80},{"x":5.852,"y":0.76,"s":0.09,"a":-90},{"x":5.928,"y":0.76,"s":0.05,"a":-85},{"x":6.004,"y":0.76,"s":0.03,"a":-90},{"x":6.08,"y":0.76,"s":0.02},{"x":6.156,"y":0.76,"s":0.02},{"x":6.232,"y":0.76,"s":0.02},{"x":6.308,"y":0.76,"s":0.03,"a":5},{"x":6.384,"y":0.76,"s":0.05,"a":20},{"x":6.46,"y":0.76,"s":0.07,"a":30},{"x":6.536,"y":0.76,"s":0.08,"a":35},{"x":6.612,"y":0.76,"s":0.1,"a":35},{"x":6.688,"y":0.76,"s":0.12,"a":35},{"x":6.764,"y":0.76,"s":0.17,"a":25},{"x":6.84,"y":0.76,"s":0.15},{"x":6.916,"y":0.76,"s":0.11,"a":-40},{"x":6.992,"y":0.76,"s":0.09,"a":-50},{"x":7.068,"y":0.76,"s":0.08,"a":-55},{"x":7.144,"y":0.76,"s":0.02},{"x":7.22,"y":0.76,"s":0.02},{"x":7.296,"y":0.76,"s":0.02},{"x":7.372,"y":0.76,"s":0.02},{"x":7.448,"y":0.76,"s":0.02},{"x":7.524,"y":0.76,"s":0.02},{"x":7.6,"y":0.76,"s":0.02},{"x":7.676,"y":0.76,"s":0.02},{"x":7.752,"y":0.76,"s":0.02},{"x":7.828,"y":0.76,"s":0.04,"a":-30},{"x":7.904,"y":0.76,"s":0.06,"a":-35},{"x":7.98,"y":0.76,"s":0.08,"a":-40},{"x":8.056,"y":0.76,"s":0.12,"a":-30},{"x":8.132,"y":0.76,"s":0.18,"a":-35},{"x":8.208,"y":0.76,"s":0.15,"a":20},{"x":8.284,"y":0.76,"s":0.12,"a":35},{"x":8.36,"y":0.76,"s":0.09,"a":50},{"x":8.436,"y":0.76,"s":0.05,"a":40},{"x":8.512,"y":0.76,"s":0.02},{"x":8.588,"y":0.76,"s":0.02},{"x":8.664,"y":0.76,"s":0.02},{"x":8.74,"y":0.76,"s":0.02},{"x":8.816,"y":0.76,"s":0.04,"a":-40},{"x":8.892,"y":0.76,"s":0.05,"a":-50},{"x":8.968,"y":0.76,"s":0.05,"a":-60},{"x":9.044,"y":0.76,"s":0.02},{"x":9.12,"y":0.76,"s":0.02},{"x":9.196,"y":0.76,"s":0.06,"a":75},{"x":9.272,"y":0.76,"s":0.05,"a":70},{"x":9.348,"y":0.76,"s":0.05,"a":60},{"x":9.424,"y":0.76,"s":0.02},{"x":9.5,"y":0.76,"s":0.02},
{"x":4.56,"y":0.684,"s":0.09},{"x":4.636,"y":0.684,"s":0.09},{"x":4.712,"y":0.684,"s":0.09},{"x":4.788,"y":0.684,"s":0.09},{"x":4.864,"y":0.684,"s":0.11},{"x":4.94,"y":0.684,"s":0.16},{"x":5.016,"y":0.684,"s":0.2},{"x":5.092,"y":0.684,"s":0.19},{"x":5.168,"y":0.684,"s":0.05,"a":5},{"x":5.244,"y":0.684,"s":0.1,"a":-40},{"x":5.32,"y":0.684,"s":0.09,"a":-80},{"x":5.396,"y":0.684,"s":0.02},{"x":5.472,"y":0.684,"s":0.08,"a":80},{"x":5.548,"y":0.684,"s":0.14,"a":75},{"x":5.624,"y":0.684,"s":0.18,"a":70},{"x":5.7,"y":0.684,"s":0.09,"a":50},{"x":5.776,"y":0.684,"s":0.1,"a":-50},{"x":5.852,"y":0.684,"s":0.1,"a":-60},{"x":5.928,"y":0.684,"s":0.07,"a":-65},{"x":6.004,"y":0.684,"s":0.04,"a":-50},{"x":6.08,"y":0.684,"s":0.02},{"x":6.156,"y":0.684,"s":0.02},{"x":6.232,"y":0.684,"s":0.02},{"x":6.308,"y":0.684,"s":0.03,"a":5},{"x":6.384,"y":0.684,"s":0.05,"a":15},{"x":6.46,"y":0.684,"s":0.07,"a":20},{"x":6.536,"y":0.684,"s":0.08,"a":25},{"x":6.612,"y":0.684,"s":0.1,"a":25},{"x":6.688,"y":0.684,"s":0.14,"a":30},{"x":6.764,"y":0.684,"s":0.2,"a":5},{"x":6.84,"y":0.684,"s":0.2,"a":-8},{"x":6.916,"y":0.684,"s":0.14,"a":-15},{"x":6.992,"y":0.684,"s":0.08,"a":-25},{"x":7.068,"y":0.684,"s":0.08,"a":-25},{"x":7.144,"y":0.684,"s":0.02},{"x":7.22,"y":0.684,"s":0.02},{"x":7.296,"y":0.684,"s":0.02},{"x":7.372,"y":0.684,"s":0.02},{"x":7.448,"y":0.684,"s":0.02},{"x":7.524,"y":0.684,"s":0.02},{"x":7.6,"y":0.684,"s":0.02},{"x":7.676,"y":0.684,"s":0.02},{"x":7.752,"y":0.684,"s":0.02},{"x":7.828,"y":0.684,"s":0.04,"a":-40},{"x":7.904,"y":0.684,"s":0.05,"a":-40},{"x":7.98,"y":0.684,"s":0.08,"a":-45},{"x":8.056,"y":0.684,"s":0.1,"a":-45},{"x":8.132,"y":0.684,"s":0.08,"a":-60},{"x":8.208,"y":0.684,"s":0.02},{"x":8.284,"y":0.684,"s":0.07,"a":70},{"x":8.36,"y":0.684,"s":0.08,"a":65},{"x":8.436,"y":0.684,"s":0.04,"a":50},{"x":8.512,"y":0.684,"s":0.02},{"x":8.588,"y":0.684,"s":0.02},{"x":8.664,"y":0.684,"s":0.02},{"x":8.74,"y":0.684,"s":0.02},{"x":8.816,"y":0.684,"s":0.03,"a":-30},{"x":8.892,"y":0.684,"s":0.02},{"x":8.968,"y":0.684,"s":0.02},{"x":9.044,"y":0.684,"s":0.02},{"x":9.12,"y":0.684,"s":0.02},{"x":9.196,"y":0.684,"s":0.02},{"x":9.272,"y":0.684,"s":0.05,"a":75},{"x":9.348,"y":0.684,"s":0.06,"a":70},{"x":9.424,"y":0.684,"s":0.02},{"x":9.5,"y":0.684,"s":0.02},
{"x":4.56,"y":0.608,"s":0.1},{"x":4.636,"y":0.608,"s":0.1},{"x":4.712,"y":0.608,"s":0.11},{"x":4.788,"y":0.608,"s":0.11,"a":5},{"x":4.864,"y":0.608,"s":0.12},{"x":4.94,"y":0.608,"s":0.19},{"x":5.016,"y":0.608,"s":0.23},{"x":5.092,"y":0.608,"s":0.23},{"x":5.168,"y":0.608,"s":0.19,"a":-3},{"x":5.244,"y":0.608,"s":0.14,"a":-15},{"x":5.32,"y":0.608,"s":0.02},{"x":5.396,"y":0.608,"s":0.02},{"x":5.472,"y":0.608,"s":0.05,"a":60},{"x":5.548,"y":0.608,"s":0.13,"a":65},{"x":5.624,"y":0.608,"s":0.15,"a":40},{"x":5.7,"y":0.608,"s":0.22},{"x":5.776,"y":0.608,"s":0.2,"a":-20},{"x":5.852,"y":0.608,"s":0.12,"a":-35},{"x":5.928,"y":0.608,"s":0.08,"a":-30},{"x":6.004,"y":0.608,"s":0.06,"a":-25},{"x":6.08,"y":0.608,"s":0.05,"a":-15},{"x":6.156,"y":0.608,"s":0.04,"a":-10},{"x":6.232,"y":0.608,"s":0.04,"a":-5},{"x":6.308,"y":0.608,"s":0.03,"a":-5},{"x":6.384,"y":0.608,"s":0.06,"a":10},{"x":6.46,"y":0.608,"s":0.08,"a":10},{"x":6.536,"y":0.608,"s":0.1,"a":15},{"x":6.612,"y":0.608,"s":0.13,"a":15},{"x":6.688,"y":0.608,"s":0.15,"a":15},{"x":6.764,"y":0.608,"s":0.18,"a":8},{"x":6.84,"y":0.608,"s":0.19,"a":-5},{"x":6.916,"y":0.608,"s":0.17,"a":-8},{"x":6.992,"y":0.608,"s":0.14,"a":-8},{"x":7.068,"y":0.608,"s":0.1,"a":-12},{"x":7.144,"y":0.608,"s":0.06,"a":-8},{"x":7.22,"y":0.608,"s":0.02},{"x":7.296,"y":0.608,"s":0.02},{"x":7.372,"y":0.608,"s":0.03,"a":40},{"x":7.448,"y":0.608,"s":0.04,"a":45},{"x":7.524,"y":0.608,"s":0.04,"a":60},{"x":7.6,"y":0.608,"s":0.02},{"x":7.676,"y":0.608,"s":0.02},{"x":7.752,"y":0.608,"s":0.04,"a":-60},{"x":7.828,"y":0.608,"s":0.05,"a":-50},{"x":7.904,"y":0.608,"s":0.06,"a":-45},{"x":7.98,"y":0.608,"s":0.06,"a":-50},{"x":8.056,"y":0.608,"s":0.05,"a":-45},{"x":8.132,"y":0.608,"s":0.02},{"x":8.208,"y":0.608,"s":0.02},{"x":8.284,"y":0.608,"s":0.03,"a":70},{"x":8.36,"y":0.608,"s":0.05,"a":70},{"x":8.436,"y":0.608,"s":0.05,"a":60},{"x":8.512,"y":0.608,"s":0.03,"a":60},{"x":8.588,"y":0.608,"s":0.02},{"x":8.664,"y":0.608,"s":0.02},{"x":8.74,"y":0.608,"s":0.03,"a":-60},{"x":8.816,"y":0.608,"s":0.05,"a":-50},{"x":8.892,"y":0.608,"s":0.02},{"x":8.968,"y":0.608,"s":0.02},{"x":9.044,"y":0.608,"s":0.02},{"x":9.12,"y":0.608,"s":0.02},{"x":9.196,"y":0.608,"s":0.02},{"x":9.272,"y":0.608,"s":0.05,"a":75},{"x":9.348,"y":0.608,"s":0.06,"a":70},{"x":9.424,"y":0.608,"s":0.04,"a":80},{"x":9.5,"y":0.608,"s":0.04,"a":90},
{"x":4.56,"y":0.532,"s":0.11,"a":5},{"x":4.636,"y":0.532,"s":0.11,"a":5},{"x":4.712,"y":0.532,"s":0.11,"a":5},{"x":4.788,"y":0.532,"s":0.11,"a":5},{"x":4.864,"y":0.532,"s":0.13},{"x":4.94,"y":0.532,"s":0.18},{"x":5.016,"y":0.532,"s":0.22},{"x":5.092,"y":0.532,"s":0.22},{"x":5.168,"y":0.532,"s":0.19},{"x":5.244,"y":0.532,"s":0.15,"a":-3},{"x":5.32,"y":0.532,"s":0.09},{"x":5.396,"y":0.532,"s":0.05},{"x":5.472,"y":0.532,"s":0.04},{"x":5.548,"y":0.532,"s":0.06,"a":10},{"x":5.624,"y":0.532,"s":0.19,"a":15},{"x":5.7,"y":0.532,"s":0.2,"a":5},{"x":5.776,"y":0.532,"s":0.2,"a":-8},{"x":5.852,"y":0.532,"s":0.17,"a":-12},{"x":5.928,"y":0.532,"s":0.12,"a":-15},{"x":6.004,"y":0.532,"s":0.08,"a":-15},{"x":6.08,"y":0.532,"s":0.07,"a":-12},{"x":6.156,"y":0.532,"s":0.07,"a":-8},{"x":6.232,"y":0.532,"s":0.06},{"x":6.308,"y":0.532,"s":0.06,"a":5},{"x":6.384,"y":0.532,"s":0.07,"a":5},{"x":6.46,"y":0.532,"s":0.09,"a":8},{"x":6.536,"y":0.532,"s":0.1,"a":8},{"x":6.612,"y":0.532,"s":0.12,"a":8},{"x":6.688,"y":0.532,"s":0.13,"a":8},{"x":6.764,"y":0.532,"s":0.14,"a":5},{"x":6.84,"y":0.532,"s":0.14},{"x":6.916,"y":0.532,"s":0.13,"a":-3},{"x":6.992,"y":0.532,"s":0.12,"a":-5},{"x":7.068,"y":0.532,"s":0.09,"a":-10},{"x":7.144,"y":0.532,"s":0.07,"a":-10},{"x":7.22,"y":0.532,"s":0.05},{"x":7.296,"y":0.532,"s":0.04,"a":10},{"x":7.372,"y":0.532,"s":0.04,"a":30},{"x":7.448,"y":0.532,"s":0.05,"a":40},{"x":7.524,"y":0.532,"s":0.06,"a":50},{"x":7.6,"y":0.532,"s":0.08,"a":60},{"x":7.676,"y":0.532,"s":0.05,"a":-60},{"x":7.752,"y":0.532,"s":0.1,"a":-50},{"x":7.828,"y":0.532,"s":0.09,"a":-45},{"x":7.904,"y":0.532,"s":0.08,"a":-40},{"x":7.98,"y":0.532,"s":0.06,"a":-40},{"x":8.056,"y":0.532,"s":0.03,"a":-30},{"x":8.132,"y":0.532,"s":0.02},{"x":8.208,"y":0.532,"s":0.02},{"x":8.284,"y":0.532,"s":0.02},{"x":8.36,"y":0.532,"s":0.04,"a":45},{"x":8.436,"y":0.532,"s":0.07,"a":50},{"x":8.512,"y":0.532,"s":0.08,"a":55},{"x":8.588,"y":0.532,"s":0.07,"a":60},{"x":8.664,"y":0.532,"s":0.06,"a":-60},{"x":8.74,"y":0.532,"s":0.08,"a":-50},{"x":8.816,"y":0.532,"s":0.07,"a":-40},{"x":8.892,"y":0.532,"s":0.05,"a":-30},{"x":8.968,"y":0.532,"s":0.02},{"x":9.044,"y":0.532,"s":0.02},{"x":9.12,"y":0.532,"s":0.02},{"x":9.196,"y":0.532,"s":0.03,"a":30},{"x":9.272,"y":0.532,"s":0.06,"a":50},{"x":9.348,"y":0.532,"s":0.07,"a":60},{"x":9.424,"y":0.532,"s":0.12,"a":65},{"x":9.5,"y":0.532,"s":0.12,"a":70},
{"x":4.56,"y":0.456,"s":0.12},{"x":4.636,"y":0.456,"s":0.12},{"x":4.712,"y":0.456,"s":0.12},{"x":4.788,"y":0.456,"s":0.12},{"x":4.864,"y":0.456,"s":0.14},{"x":4.94,"y":0.456,"s":0.16},{"x":5.016,"y":0.456,"s":0.18},{"x":5.092,"y":0.456,"s":0.19},{"x":5.168,"y":0.456,"s":0.17},{"x":5.244,"y":0.456,"s":0.13,"a":3},{"x":5.32,"y":0.456,"s":0.11},{"x":5.396,"y":0.456,"s":0.09},{"x":5.472,"y":0.456,"s":0.08},{"x":5.548,"y":0.456,"s":0.1},{"x":5.624,"y":0.456,"s":0.14},{"x":5.7,"y":0.456,"s":0.18},{"x":5.776,"y":0.456,"s":0.21,"a":-3},{"x":5.852,"y":0.456,"s":0.22,"a":-5},{"x":5.928,"y":0.456,"s":0.18,"a":-5},{"x":6.004,"y":0.456,"s":0.13,"a":-8},{"x":6.08,"y":0.456,"s":0.11,"a":-8},{"x":6.156,"y":0.456,"s":0.1,"a":-5},{"x":6.232,"y":0.456,"s":0.09,"a":-3},{"x":6.308,"y":0.456,"s":0.08},{"x":6.384,"y":0.456,"s":0.08},{"x":6.46,"y":0.456,"s":0.09},{"x":6.536,"y":0.456,"s":0.1},{"x":6.612,"y":0.456,"s":0.11},{"x":6.688,"y":0.456,"s":0.12},{"x":6.764,"y":0.456,"s":0.12},{"x":6.84,"y":0.456,"s":0.12},{"x":6.916,"y":0.456,"s":0.11},{"x":6.992,"y":0.456,"s":0.1},{"x":7.068,"y":0.456,"s":0.09},{"x":7.144,"y":0.456,"s":0.08},{"x":7.22,"y":0.456,"s":0.07},{"x":7.296,"y":0.456,"s":0.08,"a":5},{"x":7.372,"y":0.456,"s":0.07,"a":15},{"x":7.448,"y":0.456,"s":0.08,"a":30},{"x":7.524,"y":0.456,"s":0.1,"a":35},{"x":7.6,"y":0.456,"s":0.14,"a":45},{"x":7.676,"y":0.456,"s":0.2,"a":20},{"x":7.752,"y":0.456,"s":0.22,"a":-10},{"x":7.828,"y":0.456,"s":0.2,"a":-18},{"x":7.904,"y":0.456,"s":0.14,"a":-20},{"x":7.98,"y":0.456,"s":0.09,"a":-15},{"x":8.056,"y":0.456,"s":0.06,"a":-8},{"x":8.132,"y":0.456,"s":0.04,"a":-5},{"x":8.208,"y":0.456,"s":0.02},{"x":8.284,"y":0.456,"s":0.03,"a":30},{"x":8.36,"y":0.456,"s":0.06,"a":35},{"x":8.436,"y":0.456,"s":0.08,"a":40},{"x":8.512,"y":0.456,"s":0.12,"a":45},{"x":8.588,"y":0.456,"s":0.2,"a":15},{"x":8.664,"y":0.456,"s":0.2,"a":-12},{"x":8.74,"y":0.456,"s":0.17,"a":-15},{"x":8.816,"y":0.456,"s":0.12,"a":-15},{"x":8.892,"y":0.456,"s":0.09,"a":-10},{"x":8.968,"y":0.456,"s":0.06,"a":-5},{"x":9.044,"y":0.456,"s":0.05},{"x":9.12,"y":0.456,"s":0.05,"a":15},{"x":9.196,"y":0.456,"s":0.06,"a":25},{"x":9.272,"y":0.456,"s":0.08,"a":35},{"x":9.348,"y":0.456,"s":0.09,"a":40},{"x":9.424,"y":0.456,"s":0.14,"a":40},{"x":9.5,"y":0.456,"s":0.2,"a":30},
{"x":4.56,"y":0.38,"s":0.12},{"x":4.636,"y":0.38,"s":0.12},{"x":4.712,"y":0.38,"s":0.12},{"x":4.788,"y":0.38,"s":0.12},{"x":4.864,"y":0.38,"s":0.14},{"x":4.94,"y":0.38,"s":0.16},{"x":5.016,"y":0.38,"s":0.17},{"x":5.092,"y":0.38,"s":0.17},{"x":5.168,"y":0.38,"s":0.16},{"x":5.244,"y":0.38,"s":0.15},{"x":5.32,"y":0.38,"s":0.13},{"x":5.396,"y":0.38,"s":0.12},{"x":5.472,"y":0.38,"s":0.12},{"x":5.548,"y":0.38,"s":0.13},{"x":5.624,"y":0.38,"s":0.15},{"x":5.7,"y":0.38,"s":0.17},{"x":5.776,"y":0.38,"s":0.2,"a":-2},{"x":5.852,"y":0.38,"s":0.2,"a":-2},{"x":5.928,"y":0.38,"s":0.19,"a":-3},{"x":6.004,"y":0.38,"s":0.16,"a":-3},{"x":6.08,"y":0.38,"s":0.13,"a":-3},{"x":6.156,"y":0.38,"s":0.12},{"x":6.232,"y":0.38,"s":0.11},{"x":6.308,"y":0.38,"s":0.1},{"x":6.384,"y":0.38,"s":0.1},{"x":6.46,"y":0.38,"s":0.11},{"x":6.536,"y":0.38,"s":0.11},{"x":6.612,"y":0.38,"s":0.12},{"x":6.688,"y":0.38,"s":0.12},{"x":6.764,"y":0.38,"s":0.13},{"x":6.84,"y":0.38,"s":0.13},{"x":6.916,"y":0.38,"s":0.12},{"x":6.992,"y":0.38,"s":0.12},{"x":7.068,"y":0.38,"s":0.11},{"x":7.144,"y":0.38,"s":0.1},{"x":7.22,"y":0.38,"s":0.09},{"x":7.296,"y":0.38,"s":0.09},{"x":7.372,"y":0.38,"s":0.1},{"x":7.448,"y":0.38,"s":0.12,"a":5},{"x":7.524,"y":0.38,"s":0.14,"a":5},{"x":7.6,"y":0.38,"s":0.17,"a":5},{"x":7.676,"y":0.38,"s":0.2,"a":5},{"x":7.752,"y":0.38,"s":0.22},{"x":7.828,"y":0.38,"s":0.22,"a":-3},{"x":7.904,"y":0.38,"s":0.19,"a":-5},{"x":7.98,"y":0.38,"s":0.15,"a":-5},{"x":8.056,"y":0.38,"s":0.12,"a":-3},{"x":8.132,"y":0.38,"s":0.1},{"x":8.208,"y":0.38,"s":0.09},{"x":8.284,"y":0.38,"s":0.09},{"x":8.36,"y":0.38,"s":0.11,"a":5},{"x":8.436,"y":0.38,"s":0.14,"a":5},{"x":8.512,"y":0.38,"s":0.17,"a":5},{"x":8.588,"y":0.38,"s":0.2},{"x":8.664,"y":0.38,"s":0.2,"a":-3},{"x":8.74,"y":0.38,"s":0.2,"a":-3},{"x":8.816,"y":0.38,"s":0.17,"a":-3},{"x":8.892,"y":0.38,"s":0.13},{"x":8.968,"y":0.38,"s":0.11},{"x":9.044,"y":0.38,"s":0.09},{"x":9.12,"y":0.38,"s":0.09},{"x":9.196,"y":0.38,"s":0.1},{"x":9.272,"y":0.38,"s":0.12,"a":5},{"x":9.348,"y":0.38,"s":0.14,"a":5},{"x":9.424,"y":0.38,"s":0.17,"a":5},{"x":9.5,"y":0.38,"s":0.19},
{"x":4.56,"y":0.304,"s":0.12},{"x":4.636,"y":0.304,"s":0.12},{"x":4.712,"y":0.304,"s":0.13},{"x":4.788,"y":0.304,"s":0.13},{"x":4.864,"y":0.304,"s":0.14},{"x":4.94,"y":0.304,"s":0.15},{"x":5.016,"y":0.304,"s":0.15},{"x":5.092,"y":0.304,"s":0.15},{"x":5.168,"y":0.304,"s":0.15},{"x":5.244,"y":0.304,"s":0.15},{"x":5.32,"y":0.304,"s":0.14},{"x":5.396,"y":0.304,"s":0.14},{"x":5.472,"y":0.304,"s":0.14},{"x":5.548,"y":0.304,"s":0.14},{"x":5.624,"y":0.304,"s":0.15},{"x":5.7,"y":0.304,"s":0.16},{"x":5.776,"y":0.304,"s":0.17},{"x":5.852,"y":0.304,"s":0.17},{"x":5.928,"y":0.304,"s":0.17},{"x":6.004,"y":0.304,"s":0.17},{"x":6.08,"y":0.304,"s":0.16},{"x":6.156,"y":0.304,"s":0.15},{"x":6.232,"y":0.304,"s":0.14},{"x":6.308,"y":0.304,"s":0.13},{"x":6.384,"y":0.304,"s":0.12},{"x":6.46,"y":0.304,"s":0.12},{"x":6.536,"y":0.304,"s":0.12},{"x":6.612,"y":0.304,"s":0.12},{"x":6.688,"y":0.304,"s":0.12},{"x":6.764,"y":0.304,"s":0.12},{"x":6.84,"y":0.304,"s":0.12},{"x":6.916,"y":0.304,"s":0.12},{"x":6.992,"y":0.304,"s":0.12},{"x":7.068,"y":0.304,"s":0.12},{"x":7.144,"y":0.304,"s":0.12},{"x":7.22,"y":0.304,"s":0.11},{"x":7.296,"y":0.304,"s":0.11},{"x":7.372,"y":0.304,"s":0.12},{"x":7.448,"y":0.304,"s":0.13},{"x":7.524,"y":0.304,"s":0.15},{"x":7.6,"y":0.304,"s":0.17},{"x":7.676,"y":0.304,"s":0.19},{"x":7.752,"y":0.304,"s":0.2},{"x":7.828,"y":0.304,"s":0.2},{"x":7.904,"y":0.304,"s":0.18},{"x":7.98,"y":0.304,"s":0.16},{"x":8.056,"y":0.304,"s":0.14},{"x":8.132,"y":0.304,"s":0.12},{"x":8.208,"y":0.304,"s":0.11},{"x":8.284,"y":0.304,"s":0.11},{"x":8.36,"y":0.304,"s":0.12},{"x":8.436,"y":0.304,"s":0.14},{"x":8.512,"y":0.304,"s":0.16},{"x":8.588,"y":0.304,"s":0.18},{"x":8.664,"y":0.304,"s":0.19},{"x":8.74,"y":0.304,"s":0.19},{"x":8.816,"y":0.304,"s":0.18},{"x":8.892,"y":0.304,"s":0.15},{"x":8.968,"y":0.304,"s":0.13},{"x":9.044,"y":0.304,"s":0.12},{"x":9.12,"y":0.304,"s":0.11},{"x":9.196,"y":0.304,"s":0.12},{"x":9.272,"y":0.304,"s":0.13},{"x":9.348,"y":0.304,"s":0.15},{"x":9.424,"y":0.304,"s":0.16},{"x":9.5,"y":0.304,"s":0.17},
{"x":4.56,"y":0.228,"s":0.12},{"x":4.636,"y":0.228,"s":0.12},{"x":4.712,"y":0.228,"s":0.13},{"x":4.788,"y":0.228,"s":0.13},{"x":4.864,"y":0.228,"s":0.14},{"x":4.94,"y":0.228,"s":0.14},{"x":5.016,"y":0.228,"s":0.15},{"x":5.092,"y":0.228,"s":0.15},{"x":5.168,"y":0.228,"s":0.15},{"x":5.244,"y":0.228,"s":0.14},{"x":5.32,"y":0.228,"s":0.14},{"x":5.396,"y":0.228,"s":0.14},{"x":5.472,"y":0.228,"s":0.14},{"x":5.548,"y":0.228,"s":0.14},{"x":5.624,"y":0.228,"s":0.15},{"x":5.7,"y":0.228,"s":0.15},{"x":5.776,"y":0.228,"s":0.16},{"x":5.852,"y":0.228,"s":0.16},{"x":5.928,"y":0.228,"s":0.16},{"x":6.004,"y":0.228,"s":0.15},{"x":6.08,"y":0.228,"s":0.15},{"x":6.156,"y":0.228,"s":0.14},{"x":6.232,"y":0.228,"s":0.14},{"x":6.308,"y":0.228,"s":0.13},{"x":6.384,"y":0.228,"s":0.13},{"x":6.46,"y":0.228,"s":0.12},{"x":6.536,"y":0.228,"s":0.12},{"x":6.612,"y":0.228,"s":0.12},{"x":6.688,"y":0.228,"s":0.12},{"x":6.764,"y":0.228,"s":0.12},{"x":6.84,"y":0.228,"s":0.12},{"x":6.916,"y":0.228,"s":0.12},{"x":6.992,"y":0.228,"s":0.12},{"x":7.068,"y":0.228,"s":0.12},{"x":7.144,"y":0.228,"s":0.12},{"x":7.22,"y":0.228,"s":0.12},{"x":7.296,"y":0.228,"s":0.12},{"x":7.372,"y":0.228,"s":0.12},{"x":7.448,"y":0.228,"s":0.13},{"x":7.524,"y":0.228,"s":0.14},{"x":7.6,"y":0.228,"s":0.16},{"x":7.676,"y":0.228,"s":0.17},{"x":7.752,"y":0.228,"s":0.18},{"x":7.828,"y":0.228,"s":0.18},{"x":7.904,"y":0.228,"s":0.17},{"x":7.98,"y":0.228,"s":0.15},{"x":8.056,"y":0.228,"s":0.14},{"x":8.132,"y":0.228,"s":0.13},{"x":8.208,"y":0.228,"s":0.12},{"x":8.284,"y":0.228,"s":0.12},{"x":8.36,"y":0.228,"s":0.12},{"x":8.436,"y":0.228,"s":0.13},{"x":8.512,"y":0.228,"s":0.15},{"x":8.588,"y":0.228,"s":0.16},{"x":8.664,"y":0.228,"s":0.17},{"x":8.74,"y":0.228,"s":0.17},{"x":8.816,"y":0.228,"s":0.16},{"x":8.892,"y":0.228,"s":0.15},{"x":8.968,"y":0.228,"s":0.14},{"x":9.044,"y":0.228,"s":0.13},{"x":9.12,"y":0.228,"s":0.12},{"x":9.196,"y":0.228,"s":0.12},{"x":9.272,"y":0.228,"s":0.13},{"x":9.348,"y":0.228,"s":0.14},{"x":9.424,"y":0.228,"s":0.15},{"x":9.5,"y":0.228,"s":0.16},
{"x":4.56,"y":0.152,"s":0.12},{"x":4.636,"y":0.152,"s":0.12},{"x":4.712,"y":0.152,"s":0.13},{"x":4.788,"y":0.152,"s":0.13},{"x":4.864,"y":0.152,"s":0.13},{"x":4.94,"y":0.152,"s":0.14},{"x":5.016,"y":0.152,"s":0.14},{"x":5.092,"y":0.152,"s":0.14},{"x":5.168,"y":0.152,"s":0.14},{"x":5.244,"y":0.152,"s":0.14},{"x":5.32,"y":0.152,"s":0.14},{"x":5.396,"y":0.152,"s":0.14},{"x":5.472,"y":0.152,"s":0.14},{"x":5.548,"y":0.152,"s":0.14},{"x":5.624,"y":0.152,"s":0.14},{"x":5.7,"y":0.152,"s":0.15},{"x":5.776,"y":0.152,"s":0.15},{"x":5.852,"y":0.152,"s":0.15},{"x":5.928,"y":0.152,"s":0.15},{"x":6.004,"y":0.152,"s":0.15},{"x":6.08,"y":0.152,"s":0.14},{"x":6.156,"y":0.152,"s":0.14},{"x":6.232,"y":0.152,"s":0.13},{"x":6.308,"y":0.152,"s":0.13},{"x":6.384,"y":0.152,"s":0.13},{"x":6.46,"y":0.152,"s":0.12},{"x":6.536,"y":0.152,"s":0.12},{"x":6.612,"y":0.152,"s":0.12},{"x":6.688,"y":0.152,"s":0.12},{"x":6.764,"y":0.152,"s":0.12},{"x":6.84,"y":0.152,"s":0.12},{"x":6.916,"y":0.152,"s":0.12},{"x":6.992,"y":0.152,"s":0.12},{"x":7.068,"y":0.152,"s":0.12},{"x":7.144,"y":0.152,"s":0.12},{"x":7.22,"y":0.152,"s":0.12},{"x":7.296,"y":0.152,"s":0.12},{"x":7.372,"y":0.152,"s":0.12},{"x":7.448,"y":0.152,"s":0.13},{"x":7.524,"y":0.152,"s":0.14},{"x":7.6,"y":0.152,"s":0.15},{"x":7.676,"y":0.152,"s":0.16},{"x":7.752,"y":0.152,"s":0.16},{"x":7.828,"y":0.152,"s":0.16},{"x":7.904,"y":0.152,"s":0.16},{"x":7.98,"y":0.152,"s":0.15},{"x":8.056,"y":0.152,"s":0.14},{"x":8.132,"y":0.152,"s":0.13},{"x":8.208,"y":0.152,"s":0.13},{"x":8.284,"y":0.152,"s":0.12},{"x":8.36,"y":0.152,"s":0.12},{"x":8.436,"y":0.152,"s":0.13},{"x":8.512,"y":0.152,"s":0.14},{"x":8.588,"y":0.152,"s":0.15},{"x":8.664,"y":0.152,"s":0.16},{"x":8.74,"y":0.152,"s":0.16},{"x":8.816,"y":0.152,"s":0.15},{"x":8.892,"y":0.152,"s":0.15},{"x":8.968,"y":0.152,"s":0.14},{"x":9.044,"y":0.152,"s":0.13},{"x":9.12,"y":0.152,"s":0.13},{"x":9.196,"y":0.152,"s":0.13},{"x":9.272,"y":0.152,"s":0.13},{"x":9.348,"y":0.152,"s":0.14},{"x":9.424,"y":0.152,"s":0.14},{"x":9.5,"y":0.152,"s":0.15},
{"x":4.56,"y":0.076,"s":0.12},{"x":4.636,"y":0.076,"s":0.12},{"x":4.712,"y":0.076,"s":0.12},{"x":4.788,"y":0.076,"s":0.13},{"x":4.864,"y":0.076,"s":0.13},{"x":4.94,"y":0.076,"s":0.13},{"x":5.016,"y":0.076,"s":0.14},{"x":5.092,"y":0.076,"s":0.14},{"x":5.168,"y":0.076,"s":0.14},{"x":5.244,"y":0.076,"s":0.14},{"x":5.32,"y":0.076,"s":0.14},{"x":5.396,"y":0.076,"s":0.14},{"x":5.472,"y":0.076,"s":0.14},{"x":5.548,"y":0.076,"s":0.14},{"x":5.624,"y":0.076,"s":0.14},{"x":5.7,"y":0.076,"s":0.14},{"x":5.776,"y":0.076,"s":0.14},{"x":5.852,"y":0.076,"s":0.14},{"x":5.928,"y":0.076,"s":0.14},{"x":6.004,"y":0.076,"s":0.14},{"x":6.08,"y":0.076,"s":0.14},{"x":6.156,"y":0.076,"s":0.13},{"x":6.232,"y":0.076,"s":0.13},{"x":6.308,"y":0.076,"s":0.13},{"x":6.384,"y":0.076,"s":0.13},{"x":6.46,"y":0.076,"s":0.12},{"x":6.536,"y":0.076,"s":0.12},{"x":6.612,"y":0.076,"s":0.12},{"x":6.688,"y":0.076,"s":0.12},{"x":6.764,"y":0.076,"s":0.12},{"x":6.84,"y":0.076,"s":0.12},{"x":6.916,"y":0.076,"s":0.12},{"x":6.992,"y":0.076,"s":0.12},{"x":7.068,"y":0.076,"s":0.12},{"x":7.144,"y":0.076,"s":0.12},{"x":7.22,"y":0.076,"s":0.12},{"x":7.296,"y":0.076,"s":0.12},{"x":7.372,"y":0.076,"s":0.13},{"x":7.448,"y":0.076,"s":0.13},{"x":7.524,"y":0.076,"s":0.14},{"x":7.6,"y":0.076,"s":0.14},{"x":7.676,"y":0.076,"s":0.15},{"x":7.752,"y":0.076,"s":0.15},{"x":7.828,"y":0.076,"s":0.15},{"x":7.904,"y":0.076,"s":0.15},{"x":7.98,"y":0.076,"s":0.14},{"x":8.056,"y":0.076,"s":0.14},{"x":8.132,"y":0.076,"s":0.13},{"x":8.208,"y":0.076,"s":0.13},{"x":8.284,"y":0.076,"s":0.13},{"x":8.36,"y":0.076,"s":0.13},{"x":8.436,"y":0.076,"s":0.13},{"x":8.512,"y":0.076,"s":0.14},{"x":8.588,"y":0.076,"s":0.14},{"x":8.664,"y":0.076,"s":0.15},{"x":8.74,"y":0.076,"s":0.15},{"x":8.816,"y":0.076,"s":0.15},{"x":8.892,"y":0.076,"s":0.14},{"x":8.968,"y":0.076,"s":0.14},{"x":9.044,"y":0.076,"s":0.14},{"x":9.12,"y":0.076,"s":0.13},{"x":9.196,"y":0.076,"s":0.13},{"x":9.272,"y":0.076,"s":0.13},{"x":9.348,"y":0.076,"s":0.14},{"x":9.424,"y":0.076,"s":0.14},{"x":9.5,"y":0.076,"s":0.14},
{"x":4.56,"y":0,"s":0.12},{"x":4.636,"y":0,"s":0.12},{"x":4.712,"y":0,"s":0.12},{"x":4.788,"y":0,"s":0.13},{"x":4.864,"y":0,"s":0.13},{"x":4.94,"y":0,"s":0.13},{"x":5.016,"y":0,"s":0.13},{"x":5.092,"y":0,"s":0.14},{"x":5.168,"y":0,"s":0.14},{"x":5.244,"y":0,"s":0.14},{"x":5.32,"y":0,"s":0.14},{"x":5.396,"y":0,"s":0.14},{"x":5.472,"y":0,"s":0.14},{"x":5.548,"y":0,"s":0.14},{"x":5.624,"y":0,"s":0.14},{"x":5.7,"y":0,"s":0.14},{"x":5.776,"y":0,"s":0.14},{"x":5.852,"y":0,"s":0.14},{"x":5.928,"y":0,"s":0.14},{"x":6.004,"y":0,"s":0.14},{"x":6.08,"y":0,"s":0.14},{"x":6.156,"y":0,"s":0.13},{"x":6.232,"y":0,"s":0.13},{"x":6.308,"y":0,"s":0.13},{"x":6.384,"y":0,"s":0.13},{"x":6.46,"y":0,"s":0.13},{"x":6.536,"y":0,"s":0.12},{"x":6.612,"y":0,"s":0.12},{"x":6.688,"y":0,"s":0.12},{"x":6.764,"y":0,"s":0.12},{"x":6.84,"y":0,"s":0.12},{"x":6.916,"y":0,"s":0.12},{"x":6.992,"y":0,"s":0.12},{"x":7.068,"y":0,"s":0.12},{"x":7.144,"y":0,"s":0.12},{"x":7.22,"y":0,"s":0.12},{"x":7.296,"y":0,"s":0.13},{"x":7.372,"y":0,"s":0.13},{"x":7.448,"y":0,"s":0.13},{"x":7.524,"y":0,"s":0.14},{"x":7.6,"y":0,"s":0.14},{"x":7.676,"y":0,"s":0.14},{"x":7.752,"y":0,"s":0.15},{"x":7.828,"y":0,"s":0.15},{"x":7.904,"y":0,"s":0.14},{"x":7.98,"y":0,"s":0.14},{"x":8.056,"y":0,"s":0.14},{"x":8.132,"y":0,"s":0.13},{"x":8.208,"y":0,"s":0.13},{"x":8.284,"y":0,"s":0.13},{"x":8.36,"y":0,"s":0.13},{"x":8.436,"y":0,"s":0.13},{"x":8.512,"y":0,"s":0.14},{"x":8.588,"y":0,"s":0.14},{"x":8.664,"y":0,"s":0.14},{"x":8.74,"y":0,"s":0.15},{"x":8.816,"y":0,"s":0.14},{"x":8.892,"y":0,"s":0.14},{"x":8.968,"y":0,"s":0.14},{"x":9.044,"y":0,"s":0.14},{"x":9.12,"y":0,"s":0.13},{"x":9.196,"y":0,"s":0.13},{"x":9.272,"y":0,"s":0.13},{"x":9.348,"y":0,"s":0.14},{"x":9.424,"y":0,"s":0.14},{"x":9.5,"y":0,"s":0.14}
]},
"vconcat":[
{"width":992,"height":318,"title":"Vorticity at time t =\u00a0\u00a0\u00a0\u00a092.00000000","resolve":{"scale":{"size":"independent","color":"independent"},"axis":{"x":"independent","y":"independent"},"legend":{"color":"independent"}},
"layer":[
{"data":{"name":"base0"},"mark":{"type":"rect"},"encoding":{"x":{"field":"x","type":"quantitative","scale":{"domain":[4.5,9.5],"nice":false,"zero":false},"axis":{"orient":"bottom","values":[5,6,7,8,9],"format":"d"}},"x2":{"field":"x2"},"y":{"field":"y","type":"quantitative","scale":{"domain":[0,1.6],"nice":false},"axis":{"orient":"left","values":[0,0.2,0.4,0.6,0.8,1,1.2,1.4,1.6],"format":".1f"}},"y2":{"field":"y2"},"color":{"field":"v","type":"quantitative","scale":{"type":"linear","interpolate":"rgb","domain":[-0.5,0,0.5],"range":["#0000ff","#ffffff","#ff0000"]},"legend":{"type":"gradient","orient":"none","legendX":1053,"legendY":29,"direction":"vertical","gradientLength":262,"gradientThickness":14,"title":null,"values":[-0.5,-0.4,-0.3,-0.2,-0.1,0,0.1,0.2,0.3,0.4,0.5],"format":".1f","labelOverlap":false,"encode":{"labels":{"update":{"baseline":{"value":"middle"}}}}}}}},
{"data":{"name":"halo"},"mark":{"type":"circle","clip":true,"opacity":1},"encoding":{"x":{"field":"x","type":"quantitative","axis":null},"y":{"field":"y","type":"quantitative","axis":null},"size":{"field":"r","type":"quantitative","scale":{"type":"pow","exponent":2,"domain":[0,1],"range":[0,157450]},"legend":null},"color":{"field":"v","type":"quantitative","legend":null,"scale":{"type":"linear","interpolate":"rgb","domain":[-0.5,0,0.5],"range":["#0000ff","#ffffff","#ff0000"]}}}},
{"data":{"name":"trails"},"mark":{"type":"trail","clip":true,"order":null},"encoding":{"detail":{"field":"g"},"x":{"field":"x","type":"quantitative","axis":null},"y":{"field":"y","type":"quantitative","axis":null},"size":{"field":"w","type":"quantitative","scale":{"domain":[0,1],"range":[0,198]},"legend":null},"color":{"field":"v","type":"quantitative","legend":null,"scale":{"type":"linear","interpolate":"rgb","domain":[-0.5,0,0.5],"range":["#0000ff","#ffffff","#ff0000"]}}}},
{"data":{"name":"blobs"},"mark":{"type":"circle","clip":true,"opacity":1},"encoding":{"x":{"field":"x","type":"quantitative","axis":null},"y":{"field":"y","type":"quantitative","axis":null},"size":{"field":"r","type":"quantitative","scale":{"type":"pow","exponent":2,"domain":[0,1],"range":[0,157450]},"legend":null},"color":{"field":"v","type":"quantitative","legend":null,"scale":{"type":"linear","interpolate":"rgb","domain":[-0.5,0,0.5],"range":["#0000ff","#ffffff","#ff0000"]}}}},
{"data":{"name":"over"},"mark":{"type":"trail","clip":true,"order":null},"encoding":{"detail":{"field":"g"},"x":{"field":"x","type":"quantitative","axis":null},"y":{"field":"y","type":"quantitative","axis":null},"size":{"field":"w","type":"quantitative","scale":{"domain":[0,1],"range":[0,198]},"legend":null},"color":{"field":"v","type":"quantitative","legend":null,"scale":{"type":"linear","interpolate":"rgb","domain":[-0.5,0,0.5],"range":["#0000ff","#ffffff","#ff0000"]}}}},
{"data":{"name":"circles"},"mark":{"type":"point","stroke":"#000","strokeWidth":1.5,"filled":false,"shape":"circle","clip":true,"opacity":1},"encoding":{"x":{"field":"x","type":"quantitative","axis":{"orient":"top","labels":false,"values":[5,6,7,8,9]}},"y":{"field":"y","type":"quantitative","axis":{"orient":"right","labels":false,"values":[0,0.2,0.4,0.6,0.8,1,1.2,1.4,1.6]}},"size":{"field":"r","type":"quantitative","scale":{"type":"pow","exponent":2,"domain":[0,1],"range":[0,157450]},"legend":null}}}
]},
{"width":992,"height":318,"title":"Velocity at time t =\u00a0\u00a0\u00a0\u00a092.00000000","resolve":{"axis":{"x":"independent","y":"independent"},"scale":{"size":"independent"}},
"layer":[
{"data":{"name":"base"},"mark":{"type":"rect"},"encoding":{"x":{"field":"x","type":"quantitative","scale":{"domain":[4.5,9.5],"nice":false,"zero":false},"axis":{"orient":"bottom","values":[5,6,7,8,9],"format":"d"}},"x2":{"field":"x2"},"y":{"field":"y","type":"quantitative","scale":{"domain":[0,1.6],"nice":false},"axis":{"orient":"left","values":[0,0.2,0.4,0.6,0.8,1,1.2,1.4,1.6],"format":".1f"}},"y2":{"field":"y2"},"color":{"field":"s","type":"quantitative","scale":{"type":"linear","interpolate":"rgb","domain":[0,0.113,0.225],"range":["#ffffff","#7878ff","#ff5050"]},"legend":{"type":"gradient","orient":"none","legendX":1053,"legendY":29,"direction":"vertical","gradientLength":262,"gradientThickness":14,"title":null,"values":[0,0.025,0.05,0.075,0.1,0.125,0.15,0.175,0.2,0.225],"format":".3f","labelOverlap":false,"encode":{"labels":{"update":{"baseline":{"value":"middle"}}}}}}}},
{"data":{"name":"grid"},"mark":{"type":"point","filled":true,"opacity":1,"strokeWidth":0,"shape":"M-1,-2H1V0H-1Z","clip":true,"size":234},"encoding":{"x":{"field":"x","type":"quantitative","axis":null},"y":{"field":"y","type":"quantitative","axis":null},"color":{"field":"s","type":"quantitative","legend":null,"scale":{"type":"linear","interpolate":"rgb","domain":[0,0.113,0.225],"range":["#ffffff","#7878ff","#ff5050"]}}}},
{"data":{"name":"grid"},"transform":[{"filter":"datum.s>=0.03"}],"mark":{"type":"point","filled":true,"opacity":1,"fill":"#000","strokeWidth":0,"shape":"M0,-.1L.7,-.1L.5,-.55L2,0L.5,.55L.7,.1L0,.1Z","clip":true},"encoding":{"x":{"field":"x","type":"quantitative","axis":null},"y":{"field":"y","type":"quantitative","axis":null},"size":{"field":"s","type":"quantitative","scale":{"type":"pow","exponent":2,"domain":[0,0.25],"range":[0,720]},"legend":null},"angle":{"field":"a","type":"quantitative","scale":null}}},
{"data":{"name":"grid"},"transform":[{"filter":"datum.s<0.03"}],"mark":{"type":"circle","color":"#000","opacity":1,"size":34,"clip":true},"encoding":{"x":{"field":"x","type":"quantitative","axis":null},"y":{"field":"y","type":"quantitative","axis":null}}},
{"data":{"name":"circles"},"mark":{"type":"point","stroke":"#0000ff","strokeWidth":3,"filled":false,"shape":"circle","clip":true,"opacity":1},"encoding":{"x":{"field":"x","type":"quantitative","axis":{"orient":"top","labels":false,"values":[5,6,7,8,9]}},"y":{"field":"y","type":"quantitative","axis":{"orient":"right","labels":false,"values":[0,0.2,0.4,0.6,0.8,1,1.2,1.4,1.6]}},"size":{"field":"r","type":"quantitative","scale":{"type":"pow","exponent":2,"domain":[0,1],"range":[0,157450]},"legend":null}}}
]}
]}
